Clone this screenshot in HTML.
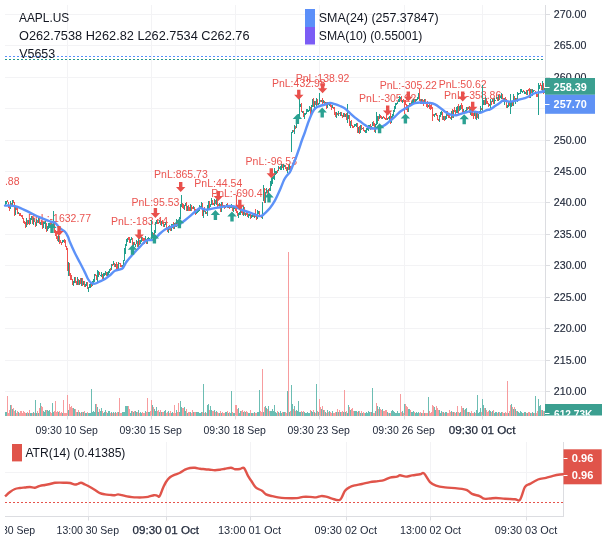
<!DOCTYPE html>
<html><head><meta charset="utf-8"><style>
html,body{margin:0;padding:0;background:#fff;width:608px;height:543px;overflow:hidden}
svg text{font-family:"Liberation Sans", sans-serif}
</style></head><body>
<svg width="608" height="543" viewBox="0 0 608 543" style="display:block;will-change:transform">
<g shape-rendering="crispEdges">
<line x1="5" y1="14.5" x2="545.5" y2="14.5" stroke="#f3f3f5"/>
<line x1="5" y1="45.5" x2="545.5" y2="45.5" stroke="#f3f3f5"/>
<line x1="5" y1="77.5" x2="545.5" y2="77.5" stroke="#f3f3f5"/>
<line x1="5" y1="108.5" x2="545.5" y2="108.5" stroke="#f3f3f5"/>
<line x1="5" y1="140.5" x2="545.5" y2="140.5" stroke="#f3f3f5"/>
<line x1="5" y1="171.5" x2="545.5" y2="171.5" stroke="#f3f3f5"/>
<line x1="5" y1="202.5" x2="545.5" y2="202.5" stroke="#f3f3f5"/>
<line x1="5" y1="234.5" x2="545.5" y2="234.5" stroke="#f3f3f5"/>
<line x1="5" y1="265.5" x2="545.5" y2="265.5" stroke="#f3f3f5"/>
<line x1="5" y1="297.5" x2="545.5" y2="297.5" stroke="#f3f3f5"/>
<line x1="5" y1="328.5" x2="545.5" y2="328.5" stroke="#f3f3f5"/>
<line x1="5" y1="360.5" x2="545.5" y2="360.5" stroke="#f3f3f5"/>
<line x1="5" y1="391.5" x2="545.5" y2="391.5" stroke="#f3f3f5"/>
<line x1="67.5" y1="5" x2="67.5" y2="415.5" stroke="#f3f3f5"/>
<line x1="151.5" y1="5" x2="151.5" y2="415.5" stroke="#f3f3f5"/>
<line x1="235.5" y1="5" x2="235.5" y2="415.5" stroke="#f3f3f5"/>
<line x1="319.5" y1="5" x2="319.5" y2="415.5" stroke="#f3f3f5"/>
<line x1="404.5" y1="5" x2="404.5" y2="415.5" stroke="#f3f3f5"/>
<line x1="482.5" y1="5" x2="482.5" y2="415.5" stroke="#f3f3f5"/>
</g>
<line x1="5" y1="56.5" x2="545.5" y2="56.5" stroke="#5b8ff9" stroke-width="1" stroke-dasharray="2,2"/>
<line x1="5" y1="59.5" x2="545.5" y2="59.5" stroke="#22968a" stroke-width="1" stroke-dasharray="2,2"/>
<text x="19" y="21.9" font-size="12" fill="#131722" text-anchor="start" font-weight="normal" textLength="50.2" lengthAdjust="spacingAndGlyphs">AAPL.US</text>
<text x="19" y="39.9" font-size="12" fill="#131722" text-anchor="start" font-weight="normal" textLength="230.5" lengthAdjust="spacingAndGlyphs">O262.7538 H262.82 L262.7534 C262.76</text>
<text x="19.2" y="57.8" font-size="12" fill="#131722" text-anchor="start" font-weight="normal" textLength="36" lengthAdjust="spacingAndGlyphs">V5653</text>
<rect x="305" y="9" width="10" height="18" fill="#5b8ff9"/>
<rect x="305" y="27" width="10" height="17.5" fill="#7b5cf5"/>
<text x="318.8" y="21.8" font-size="12" fill="#131722" text-anchor="start" font-weight="normal" textLength="119.80000000000001" lengthAdjust="spacingAndGlyphs">SMA(24) (257.37847)</text>
<text x="318.8" y="39.6" font-size="12" fill="#131722" text-anchor="start" font-weight="normal" textLength="103.59999999999997" lengthAdjust="spacingAndGlyphs">SMA(10) (0.55001)</text>
<svg x="5" y="5" width="540.5" height="410.5" overflow="hidden"><g transform="translate(-5,-5)">
<text x="59.5" y="221.6" font-size="11.2" fill="#ea5450" text-anchor="middle" font-weight="normal" textLength="63.05" lengthAdjust="spacingAndGlyphs">PnL:-1632.77</text>
<text x="139.6" y="225.3" font-size="11.2" fill="#ea5450" text-anchor="middle" font-weight="normal" textLength="57.21" lengthAdjust="spacingAndGlyphs">PnL:-183.44</text>
<text x="155.4" y="205.5" font-size="11.2" fill="#ea5450" text-anchor="middle" font-weight="normal" textLength="47.88" lengthAdjust="spacingAndGlyphs">PnL:95.53</text>
<text x="180.9" y="178.3" font-size="11.2" fill="#ea5450" text-anchor="middle" font-weight="normal" textLength="53.72" lengthAdjust="spacingAndGlyphs">PnL:865.73</text>
<text x="218.3" y="187.4" font-size="11.2" fill="#ea5450" text-anchor="middle" font-weight="normal" textLength="47.88" lengthAdjust="spacingAndGlyphs">PnL:44.54</text>
<text x="239.8" y="196.5" font-size="11.2" fill="#ea5450" text-anchor="middle" font-weight="normal" textLength="57.21" lengthAdjust="spacingAndGlyphs">PnL:-690.46</text>
<text x="271.3" y="165.20000000000002" font-size="11.2" fill="#ea5450" text-anchor="middle" font-weight="normal" textLength="51.37" lengthAdjust="spacingAndGlyphs">PnL:-96.53</text>
<text x="298.8" y="87.4" font-size="11.2" fill="#ea5450" text-anchor="middle" font-weight="normal" textLength="53.72" lengthAdjust="spacingAndGlyphs">PnL:432.98</text>
<text x="322.6" y="81.9" font-size="11.2" fill="#ea5450" text-anchor="middle" font-weight="normal" textLength="53.72" lengthAdjust="spacingAndGlyphs">PnL:138.92</text>
<text x="387.7" y="102.0" font-size="11.2" fill="#ea5450" text-anchor="middle" font-weight="normal" textLength="57.21" lengthAdjust="spacingAndGlyphs">PnL:-305.22</text>
<text x="408.3" y="88.7" font-size="11.2" fill="#ea5450" text-anchor="middle" font-weight="normal" textLength="57.21" lengthAdjust="spacingAndGlyphs">PnL:-305.22</text>
<text x="462.7" y="88.0" font-size="11.2" fill="#ea5450" text-anchor="middle" font-weight="normal" textLength="47.88" lengthAdjust="spacingAndGlyphs">PnL:50.62</text>
<text x="472.7" y="98.60000000000001" font-size="11.2" fill="#ea5450" text-anchor="middle" font-weight="normal" textLength="57.21" lengthAdjust="spacingAndGlyphs">PnL:-358.86</text>
<text x="19.5" y="184.6" font-size="11.2" fill="#ea5450" text-anchor="end" font-weight="normal" textLength="63.05" lengthAdjust="spacingAndGlyphs">PnL:-1201.88</text>
</g></svg>
<g shape-rendering="crispEdges">
<rect x="5" y="200.6" width="1" height="5.0" fill="#22a08e"/>
<rect x="6" y="200.9" width="1" height="2.6" fill="#22a08e"/>
<rect x="7" y="199.9" width="1" height="2.3" fill="#ef5350"/>
<rect x="8" y="201.9" width="1" height="5.6" fill="#ef5350"/>
<rect x="9" y="205.8" width="1" height="4.8" fill="#ef5350"/>
<rect x="10" y="201.0" width="1" height="8.2" fill="#22a08e"/>
<rect x="11" y="202.9" width="1" height="2.6" fill="#ef5350"/>
<rect x="12" y="199.5" width="1" height="6.2" fill="#22a08e"/>
<rect x="13" y="200.4" width="1" height="2.8" fill="#ef5350"/>
<rect x="14" y="201.7" width="1" height="13.8" fill="#ef5350"/>
<rect x="15" y="206.9" width="1" height="7.6" fill="#22a08e"/>
<rect x="16" y="205.7" width="1" height="4.5" fill="#ef5350"/>
<rect x="17" y="207.8" width="1" height="6.1" fill="#ef5350"/>
<rect x="18" y="211.8" width="1" height="2.0" fill="#22a08e"/>
<rect x="19" y="213.3" width="1" height="2.8" fill="#ef5350"/>
<rect x="20" y="213.0" width="1" height="3.1" fill="#ef5350"/>
<rect x="21" y="215.4" width="1" height="1.9" fill="#ef5350"/>
<rect x="22" y="215.3" width="1" height="3.4" fill="#ef5350"/>
<rect x="23" y="217.6" width="1" height="4.9" fill="#ef5350"/>
<rect x="24" y="221.1" width="1" height="3.3" fill="#ef5350"/>
<rect x="25" y="222.1" width="1" height="5.8" fill="#ef5350"/>
<rect x="26" y="218.4" width="1" height="8.8" fill="#22a08e"/>
<rect x="27" y="220.3" width="1" height="4.4" fill="#ef5350"/>
<rect x="28" y="219.6" width="1" height="4.1" fill="#22a08e"/>
<rect x="29" y="220.0" width="1" height="4.7" fill="#ef5350"/>
<rect x="30" y="217.6" width="1" height="6.0" fill="#22a08e"/>
<rect x="31" y="216.3" width="1" height="3.2" fill="#22a08e"/>
<rect x="32" y="216.1" width="1" height="8.0" fill="#ef5350"/>
<rect x="33" y="218.1" width="1" height="7.2" fill="#22a08e"/>
<rect x="34" y="218.2" width="1" height="3.4" fill="#ef5350"/>
<rect x="35" y="221.5" width="1" height="5.3" fill="#ef5350"/>
<rect x="36" y="218.9" width="1" height="7.2" fill="#22a08e"/>
<rect x="37" y="219.7" width="1" height="3.0" fill="#ef5350"/>
<rect x="38" y="216.8" width="1" height="5.9" fill="#22a08e"/>
<rect x="39" y="216.4" width="1" height="7.2" fill="#ef5350"/>
<rect x="40" y="221.6" width="1" height="3.1" fill="#22a08e"/>
<rect x="41" y="220.2" width="1" height="4.6" fill="#ef5350"/>
<rect x="42" y="221.9" width="1" height="7.2" fill="#ef5350"/>
<rect x="43" y="222.3" width="1" height="5.5" fill="#22a08e"/>
<rect x="44" y="222.1" width="1" height="2.3" fill="#22a08e"/>
<rect x="45" y="220.5" width="1" height="8.5" fill="#22a08e"/>
<rect x="46" y="222.8" width="1" height="9.0" fill="#ef5350"/>
<rect x="47" y="225.6" width="1" height="5.4" fill="#22a08e"/>
<rect x="48" y="222.8" width="1" height="5.9" fill="#22a08e"/>
<rect x="49" y="222.8" width="1" height="4.1" fill="#22a08e"/>
<rect x="50" y="222.0" width="1" height="4.5" fill="#ef5350"/>
<rect x="51" y="223.0" width="1" height="5.9" fill="#ef5350"/>
<rect x="52" y="224.9" width="1" height="5.2" fill="#22a08e"/>
<rect x="53" y="210.7" width="1" height="15.9" fill="#22a08e"/>
<rect x="54" y="222.2" width="1" height="11.2" fill="#ef5350"/>
<rect x="55" y="230.4" width="1" height="5.1" fill="#ef5350"/>
<rect x="56" y="232.8" width="1" height="6.2" fill="#ef5350"/>
<rect x="57" y="235.6" width="1" height="5.0" fill="#ef5350"/>
<rect x="58" y="235.1" width="1" height="6.5" fill="#22a08e"/>
<rect x="59" y="235.5" width="1" height="8.7" fill="#ef5350"/>
<rect x="60" y="239.9" width="1" height="3.2" fill="#ef5350"/>
<rect x="61" y="241.5" width="1" height="3.8" fill="#ef5350"/>
<rect x="62" y="240.3" width="1" height="2.3" fill="#22a08e"/>
<rect x="63" y="240.1" width="1" height="1.9" fill="#22a08e"/>
<rect x="64" y="238.9" width="1" height="4.1" fill="#ef5350"/>
<rect x="65" y="240.2" width="1" height="6.3" fill="#ef5350"/>
<rect x="66" y="245.8" width="1" height="3.7" fill="#ef5350"/>
<rect x="67" y="248.0" width="1" height="23.0" fill="#ef5350"/>
<rect x="68" y="262.0" width="1" height="14.0" fill="#22a08e"/>
<rect x="69" y="263.1" width="1" height="13.1" fill="#ef5350"/>
<rect x="70" y="273.3" width="1" height="6.4" fill="#ef5350"/>
<rect x="71" y="275.2" width="1" height="4.4" fill="#ef5350"/>
<rect x="72" y="279.3" width="1" height="5.5" fill="#ef5350"/>
<rect x="73" y="281.4" width="1" height="4.6" fill="#22a08e"/>
<rect x="74" y="277.3" width="1" height="5.7" fill="#22a08e"/>
<rect x="75" y="277.1" width="1" height="6.1" fill="#ef5350"/>
<rect x="76" y="280.5" width="1" height="4.4" fill="#ef5350"/>
<rect x="77" y="277.4" width="1" height="7.5" fill="#22a08e"/>
<rect x="78" y="278.5" width="1" height="6.0" fill="#ef5350"/>
<rect x="79" y="279.8" width="1" height="4.8" fill="#22a08e"/>
<rect x="80" y="278.4" width="1" height="5.5" fill="#ef5350"/>
<rect x="81" y="278.3" width="1" height="7.7" fill="#22a08e"/>
<rect x="82" y="277.9" width="1" height="8.0" fill="#ef5350"/>
<rect x="83" y="281.1" width="1" height="3.9" fill="#22a08e"/>
<rect x="84" y="281.0" width="1" height="5.7" fill="#ef5350"/>
<rect x="85" y="283.8" width="1" height="3.5" fill="#22a08e"/>
<rect x="86" y="282.0" width="1" height="4.0" fill="#22a08e"/>
<rect x="87" y="282.4" width="1" height="6.9" fill="#ef5350"/>
<rect x="88" y="286.6" width="1" height="5.3" fill="#22a08e"/>
<rect x="89" y="283.5" width="1" height="4.7" fill="#22a08e"/>
<rect x="90" y="283.2" width="1" height="4.3" fill="#22a08e"/>
<rect x="91" y="284.1" width="1" height="2.4" fill="#ef5350"/>
<rect x="92" y="280.6" width="1" height="5.7" fill="#22a08e"/>
<rect x="93" y="278.9" width="1" height="3.6" fill="#22a08e"/>
<rect x="94" y="273.7" width="1" height="7.9" fill="#22a08e"/>
<rect x="95" y="273.7" width="1" height="2.4" fill="#ef5350"/>
<rect x="96" y="275.2" width="1" height="4.9" fill="#ef5350"/>
<rect x="97" y="270.0" width="1" height="11.7" fill="#22a08e"/>
<rect x="98" y="271.0" width="1" height="5.6" fill="#22a08e"/>
<rect x="99" y="271.5" width="1" height="3.6" fill="#ef5350"/>
<rect x="100" y="274.5" width="1" height="1.8" fill="#22a08e"/>
<rect x="101" y="271.9" width="1" height="5.0" fill="#22a08e"/>
<rect x="102" y="274.1" width="1" height="5.1" fill="#ef5350"/>
<rect x="103" y="273.1" width="1" height="6.1" fill="#22a08e"/>
<rect x="104" y="273.2" width="1" height="2.7" fill="#22a08e"/>
<rect x="105" y="270.9" width="1" height="4.0" fill="#22a08e"/>
<rect x="106" y="271.6" width="1" height="4.4" fill="#ef5350"/>
<rect x="107" y="271.6" width="1" height="4.5" fill="#22a08e"/>
<rect x="108" y="271.1" width="1" height="3.9" fill="#22a08e"/>
<rect x="109" y="269.3" width="1" height="3.9" fill="#22a08e"/>
<rect x="110" y="267.9" width="1" height="2.9" fill="#ef5350"/>
<rect x="111" y="264.2" width="1" height="5.7" fill="#22a08e"/>
<rect x="112" y="263.5" width="1" height="2.0" fill="#ef5350"/>
<rect x="113" y="261.3" width="1" height="4.1" fill="#22a08e"/>
<rect x="114" y="263.3" width="1" height="4.1" fill="#ef5350"/>
<rect x="115" y="263.6" width="1" height="3.7" fill="#22a08e"/>
<rect x="116" y="262.3" width="1" height="8.4" fill="#ef5350"/>
<rect x="117" y="263.8" width="1" height="4.8" fill="#ef5350"/>
<rect x="118" y="262.3" width="1" height="6.6" fill="#22a08e"/>
<rect x="119" y="262.8" width="1" height="1.6" fill="#ef5350"/>
<rect x="120" y="262.7" width="1" height="4.0" fill="#ef5350"/>
<rect x="121" y="264.6" width="1" height="2.8" fill="#ef5350"/>
<rect x="122" y="264.6" width="1" height="3.6" fill="#22a08e"/>
<rect x="123" y="259.7" width="1" height="6.9" fill="#22a08e"/>
<rect x="124" y="248.2" width="1" height="12.4" fill="#22a08e"/>
<rect x="125" y="244.3" width="1" height="9.9" fill="#22a08e"/>
<rect x="126" y="238.7" width="1" height="7.0" fill="#22a08e"/>
<rect x="127" y="237.7" width="1" height="3.8" fill="#22a08e"/>
<rect x="128" y="236.8" width="1" height="3.1" fill="#ef5350"/>
<rect x="129" y="237.4" width="1" height="5.2" fill="#ef5350"/>
<rect x="130" y="239.4" width="1" height="4.0" fill="#22a08e"/>
<rect x="131" y="237.4" width="1" height="2.3" fill="#22a08e"/>
<rect x="132" y="238.1" width="1" height="8.7" fill="#ef5350"/>
<rect x="133" y="241.5" width="1" height="4.5" fill="#22a08e"/>
<rect x="134" y="242.1" width="1" height="2.9" fill="#ef5350"/>
<rect x="135" y="243.7" width="1" height="3.4" fill="#22a08e"/>
<rect x="136" y="239.8" width="1" height="4.2" fill="#22a08e"/>
<rect x="137" y="241.3" width="1" height="5.6" fill="#ef5350"/>
<rect x="138" y="236.9" width="1" height="9.9" fill="#22a08e"/>
<rect x="139" y="239.6" width="1" height="5.3" fill="#ef5350"/>
<rect x="140" y="239.5" width="1" height="4.3" fill="#22a08e"/>
<rect x="141" y="237.2" width="1" height="4.5" fill="#22a08e"/>
<rect x="142" y="236.9" width="1" height="3.7" fill="#ef5350"/>
<rect x="143" y="237.8" width="1" height="2.9" fill="#ef5350"/>
<rect x="144" y="237.9" width="1" height="5.6" fill="#ef5350"/>
<rect x="145" y="236.2" width="1" height="5.4" fill="#22a08e"/>
<rect x="146" y="238.6" width="1" height="5.7" fill="#ef5350"/>
<rect x="147" y="238.0" width="1" height="6.1" fill="#22a08e"/>
<rect x="148" y="237.0" width="1" height="4.0" fill="#22a08e"/>
<rect x="149" y="238.3" width="1" height="2.2" fill="#22a08e"/>
<rect x="150" y="238.8" width="1" height="2.0" fill="#ef5350"/>
<rect x="151" y="220.0" width="1" height="21.2" fill="#22a08e"/>
<rect x="152" y="232.3" width="1" height="4.8" fill="#22a08e"/>
<rect x="153" y="232.5" width="1" height="4.5" fill="#ef5350"/>
<rect x="154" y="230.4" width="1" height="8.2" fill="#22a08e"/>
<rect x="155" y="222.3" width="1" height="10.5" fill="#22a08e"/>
<rect x="156" y="219.8" width="1" height="3.8" fill="#22a08e"/>
<rect x="157" y="218.7" width="1" height="4.8" fill="#ef5350"/>
<rect x="158" y="221.9" width="1" height="2.0" fill="#ef5350"/>
<rect x="159" y="220.3" width="1" height="2.2" fill="#22a08e"/>
<rect x="160" y="219.3" width="1" height="5.9" fill="#ef5350"/>
<rect x="161" y="220.9" width="1" height="5.3" fill="#22a08e"/>
<rect x="162" y="219.6" width="1" height="4.4" fill="#ef5350"/>
<rect x="163" y="223.0" width="1" height="3.9" fill="#ef5350"/>
<rect x="164" y="223.9" width="1" height="3.5" fill="#22a08e"/>
<rect x="165" y="222.2" width="1" height="2.5" fill="#22a08e"/>
<rect x="166" y="220.6" width="1" height="7.2" fill="#ef5350"/>
<rect x="167" y="227.3" width="1" height="4.6" fill="#ef5350"/>
<rect x="168" y="225.6" width="1" height="6.9" fill="#22a08e"/>
<rect x="169" y="225.4" width="1" height="4.6" fill="#ef5350"/>
<rect x="170" y="227.9" width="1" height="2.9" fill="#ef5350"/>
<rect x="171" y="224.3" width="1" height="6.4" fill="#22a08e"/>
<rect x="172" y="223.6" width="1" height="4.0" fill="#22a08e"/>
<rect x="173" y="222.2" width="1" height="6.5" fill="#ef5350"/>
<rect x="174" y="222.5" width="1" height="6.4" fill="#22a08e"/>
<rect x="175" y="222.6" width="1" height="4.5" fill="#ef5350"/>
<rect x="176" y="218.9" width="1" height="8.1" fill="#22a08e"/>
<rect x="177" y="220.1" width="1" height="3.4" fill="#ef5350"/>
<rect x="178" y="220.3" width="1" height="3.8" fill="#ef5350"/>
<rect x="179" y="217.0" width="1" height="4.9" fill="#22a08e"/>
<rect x="180" y="204.0" width="1" height="15.0" fill="#22a08e"/>
<rect x="181" y="195.3" width="1" height="11.2" fill="#22a08e"/>
<rect x="182" y="203.2" width="1" height="4.4" fill="#ef5350"/>
<rect x="183" y="203.5" width="1" height="5.8" fill="#ef5350"/>
<rect x="184" y="204.9" width="1" height="4.6" fill="#22a08e"/>
<rect x="185" y="202.6" width="1" height="3.4" fill="#22a08e"/>
<rect x="186" y="201.7" width="1" height="8.9" fill="#ef5350"/>
<rect x="187" y="205.9" width="1" height="4.6" fill="#22a08e"/>
<rect x="188" y="205.0" width="1" height="6.4" fill="#ef5350"/>
<rect x="189" y="206.5" width="1" height="4.1" fill="#ef5350"/>
<rect x="190" y="204.2" width="1" height="7.2" fill="#22a08e"/>
<rect x="191" y="204.5" width="1" height="6.7" fill="#ef5350"/>
<rect x="192" y="206.8" width="1" height="2.0" fill="#ef5350"/>
<rect x="193" y="205.9" width="1" height="3.1" fill="#22a08e"/>
<rect x="194" y="207.4" width="1" height="5.1" fill="#ef5350"/>
<rect x="195" y="209.2" width="1" height="5.3" fill="#ef5350"/>
<rect x="196" y="211.5" width="1" height="2.4" fill="#22a08e"/>
<rect x="197" y="209.1" width="1" height="4.1" fill="#22a08e"/>
<rect x="198" y="207.9" width="1" height="4.5" fill="#22a08e"/>
<rect x="199" y="205.4" width="1" height="5.7" fill="#22a08e"/>
<rect x="200" y="205.6" width="1" height="2.1" fill="#22a08e"/>
<rect x="201" y="202.2" width="1" height="4.3" fill="#22a08e"/>
<rect x="202" y="203.1" width="1" height="12.5" fill="#ef5350"/>
<rect x="203" y="207.7" width="1" height="10.6" fill="#22a08e"/>
<rect x="204" y="206.5" width="1" height="5.4" fill="#ef5350"/>
<rect x="205" y="211.3" width="1" height="3.0" fill="#22a08e"/>
<rect x="206" y="211.5" width="1" height="2.2" fill="#ef5350"/>
<rect x="207" y="204.5" width="1" height="11.1" fill="#22a08e"/>
<rect x="208" y="200.8" width="1" height="9.1" fill="#22a08e"/>
<rect x="209" y="200.8" width="1" height="7.8" fill="#ef5350"/>
<rect x="210" y="203.8" width="1" height="3.4" fill="#22a08e"/>
<rect x="211" y="198.4" width="1" height="6.2" fill="#22a08e"/>
<rect x="212" y="199.5" width="1" height="5.7" fill="#ef5350"/>
<rect x="213" y="202.5" width="1" height="2.9" fill="#ef5350"/>
<rect x="214" y="199.4" width="1" height="6.4" fill="#22a08e"/>
<rect x="215" y="200.2" width="1" height="3.3" fill="#ef5350"/>
<rect x="216" y="199.2" width="1" height="5.5" fill="#22a08e"/>
<rect x="217" y="197.3" width="1" height="9.2" fill="#ef5350"/>
<rect x="218" y="203.7" width="1" height="2.1" fill="#ef5350"/>
<rect x="219" y="202.6" width="1" height="3.3" fill="#22a08e"/>
<rect x="220" y="203.8" width="1" height="8.2" fill="#ef5350"/>
<rect x="221" y="202.3" width="1" height="9.8" fill="#22a08e"/>
<rect x="222" y="202.3" width="1" height="3.4" fill="#ef5350"/>
<rect x="223" y="204.6" width="1" height="1.8" fill="#ef5350"/>
<rect x="224" y="204.7" width="1" height="4.5" fill="#ef5350"/>
<rect x="225" y="205.6" width="1" height="2.6" fill="#22a08e"/>
<rect x="226" y="203.7" width="1" height="2.9" fill="#22a08e"/>
<rect x="227" y="202.9" width="1" height="5.1" fill="#ef5350"/>
<rect x="228" y="206.3" width="1" height="1.6" fill="#22a08e"/>
<rect x="229" y="204.5" width="1" height="4.0" fill="#ef5350"/>
<rect x="230" y="205.9" width="1" height="2.4" fill="#22a08e"/>
<rect x="231" y="204.2" width="1" height="4.0" fill="#22a08e"/>
<rect x="232" y="204.8" width="1" height="6.6" fill="#ef5350"/>
<rect x="233" y="207.0" width="1" height="4.5" fill="#22a08e"/>
<rect x="234" y="205.9" width="1" height="2.7" fill="#22a08e"/>
<rect x="235" y="206.4" width="1" height="4.1" fill="#ef5350"/>
<rect x="236" y="195.0" width="1" height="18.1" fill="#ef5350"/>
<rect x="237" y="210.7" width="1" height="5.4" fill="#ef5350"/>
<rect x="238" y="213.3" width="1" height="4.9" fill="#22a08e"/>
<rect x="239" y="211.9" width="1" height="2.8" fill="#22a08e"/>
<rect x="240" y="207.8" width="1" height="7.4" fill="#22a08e"/>
<rect x="241" y="207.1" width="1" height="5.4" fill="#ef5350"/>
<rect x="242" y="209.0" width="1" height="5.7" fill="#ef5350"/>
<rect x="243" y="205.7" width="1" height="10.6" fill="#22a08e"/>
<rect x="244" y="206.9" width="1" height="8.3" fill="#ef5350"/>
<rect x="245" y="212.8" width="1" height="3.5" fill="#22a08e"/>
<rect x="246" y="212.1" width="1" height="3.3" fill="#ef5350"/>
<rect x="247" y="212.0" width="1" height="4.8" fill="#ef5350"/>
<rect x="248" y="213.8" width="1" height="4.4" fill="#22a08e"/>
<rect x="249" y="213.6" width="1" height="2.7" fill="#22a08e"/>
<rect x="250" y="214.1" width="1" height="4.5" fill="#ef5350"/>
<rect x="251" y="214.5" width="1" height="3.0" fill="#22a08e"/>
<rect x="252" y="214.1" width="1" height="2.4" fill="#22a08e"/>
<rect x="253" y="213.0" width="1" height="3.7" fill="#ef5350"/>
<rect x="254" y="213.2" width="1" height="4.7" fill="#22a08e"/>
<rect x="255" y="209.3" width="1" height="7.9" fill="#ef5350"/>
<rect x="256" y="214.8" width="1" height="4.7" fill="#ef5350"/>
<rect x="257" y="210.4" width="1" height="8.1" fill="#22a08e"/>
<rect x="258" y="211.0" width="1" height="2.7" fill="#22a08e"/>
<rect x="259" y="210.7" width="1" height="6.6" fill="#ef5350"/>
<rect x="260" y="214.5" width="1" height="2.0" fill="#ef5350"/>
<rect x="261" y="215.2" width="1" height="2.8" fill="#ef5350"/>
<rect x="262" y="202.3" width="1" height="16.2" fill="#22a08e"/>
<rect x="263" y="185.0" width="1" height="16.0" fill="#22a08e"/>
<rect x="264" y="187.9" width="1" height="15.1" fill="#ef5350"/>
<rect x="265" y="191.5" width="1" height="11.7" fill="#22a08e"/>
<rect x="266" y="187.6" width="1" height="5.4" fill="#22a08e"/>
<rect x="267" y="190.0" width="1" height="3.1" fill="#ef5350"/>
<rect x="268" y="188.8" width="1" height="5.1" fill="#22a08e"/>
<rect x="269" y="187.5" width="1" height="3.4" fill="#ef5350"/>
<rect x="270" y="181.2" width="1" height="9.3" fill="#22a08e"/>
<rect x="271" y="177.7" width="1" height="8.6" fill="#22a08e"/>
<rect x="272" y="176.7" width="1" height="7.6" fill="#22a08e"/>
<rect x="273" y="175.9" width="1" height="2.6" fill="#22a08e"/>
<rect x="274" y="168.3" width="1" height="11.5" fill="#22a08e"/>
<rect x="275" y="171.2" width="1" height="3.8" fill="#22a08e"/>
<rect x="276" y="170.5" width="1" height="3.0" fill="#22a08e"/>
<rect x="277" y="170.0" width="1" height="2.9" fill="#ef5350"/>
<rect x="278" y="165.8" width="1" height="5.4" fill="#22a08e"/>
<rect x="279" y="166.5" width="1" height="2.0" fill="#ef5350"/>
<rect x="280" y="166.4" width="1" height="3.7" fill="#22a08e"/>
<rect x="281" y="163.6" width="1" height="5.9" fill="#22a08e"/>
<rect x="282" y="163.6" width="1" height="4.8" fill="#ef5350"/>
<rect x="283" y="163.5" width="1" height="6.9" fill="#22a08e"/>
<rect x="284" y="164.7" width="1" height="2.5" fill="#22a08e"/>
<rect x="285" y="164.9" width="1" height="4.0" fill="#ef5350"/>
<rect x="286" y="166.5" width="1" height="4.0" fill="#ef5350"/>
<rect x="287" y="166.5" width="1" height="6.3" fill="#22a08e"/>
<rect x="288" y="165.4" width="1" height="4.1" fill="#ef5350"/>
<rect x="289" y="164.1" width="1" height="5.6" fill="#22a08e"/>
<rect x="290" y="166.0" width="1" height="4.0" fill="#ef5350"/>
<rect x="291" y="131.6" width="1" height="19.9" fill="#22a08e"/>
<rect x="292" y="130.0" width="1" height="2.7" fill="#22a08e"/>
<rect x="293" y="129.8" width="1" height="1.7" fill="#ef5350"/>
<rect x="294" y="124.9" width="1" height="8.6" fill="#22a08e"/>
<rect x="295" y="125.8" width="1" height="3.0" fill="#ef5350"/>
<rect x="296" y="121.9" width="1" height="6.4" fill="#22a08e"/>
<rect x="297" y="115.6" width="1" height="8.4" fill="#22a08e"/>
<rect x="298" y="114.3" width="1" height="2.3" fill="#22a08e"/>
<rect x="299" y="97.5" width="1" height="20.4" fill="#22a08e"/>
<rect x="300" y="103.6" width="1" height="3.8" fill="#22a08e"/>
<rect x="301" y="103.0" width="1" height="9.1" fill="#ef5350"/>
<rect x="302" y="110.8" width="1" height="2.5" fill="#22a08e"/>
<rect x="303" y="111.0" width="1" height="5.8" fill="#ef5350"/>
<rect x="304" y="112.7" width="1" height="5.9" fill="#22a08e"/>
<rect x="305" y="113.0" width="1" height="1.8" fill="#22a08e"/>
<rect x="306" y="109.1" width="1" height="4.6" fill="#22a08e"/>
<rect x="307" y="109.1" width="1" height="3.0" fill="#22a08e"/>
<rect x="308" y="110.3" width="1" height="1.6" fill="#22a08e"/>
<rect x="309" y="106.4" width="1" height="5.0" fill="#22a08e"/>
<rect x="310" y="107.0" width="1" height="8.8" fill="#ef5350"/>
<rect x="311" y="104.5" width="1" height="9.8" fill="#22a08e"/>
<rect x="312" y="98.6" width="1" height="8.1" fill="#22a08e"/>
<rect x="313" y="98.0" width="1" height="8.7" fill="#ef5350"/>
<rect x="314" y="101.2" width="1" height="6.8" fill="#22a08e"/>
<rect x="315" y="100.7" width="1" height="4.6" fill="#ef5350"/>
<rect x="316" y="97.5" width="1" height="9.1" fill="#22a08e"/>
<rect x="317" y="99.1" width="1" height="5.5" fill="#ef5350"/>
<rect x="318" y="102.5" width="1" height="2.2" fill="#22a08e"/>
<rect x="319" y="93.0" width="1" height="10.5" fill="#22a08e"/>
<rect x="320" y="99.9" width="1" height="2.4" fill="#ef5350"/>
<rect x="321" y="100.2" width="1" height="1.5" fill="#22a08e"/>
<rect x="322" y="98.2" width="1" height="5.5" fill="#ef5350"/>
<rect x="323" y="99.7" width="1" height="3.0" fill="#22a08e"/>
<rect x="324" y="100.5" width="1" height="5.5" fill="#ef5350"/>
<rect x="325" y="102.3" width="1" height="2.6" fill="#22a08e"/>
<rect x="326" y="102.3" width="1" height="6.8" fill="#ef5350"/>
<rect x="327" y="102.2" width="1" height="5.4" fill="#22a08e"/>
<rect x="328" y="102.7" width="1" height="2.6" fill="#ef5350"/>
<rect x="329" y="102.8" width="1" height="3.1" fill="#22a08e"/>
<rect x="330" y="102.8" width="1" height="4.0" fill="#ef5350"/>
<rect x="331" y="104.6" width="1" height="4.9" fill="#ef5350"/>
<rect x="332" y="105.4" width="1" height="2.9" fill="#22a08e"/>
<rect x="333" y="106.5" width="1" height="2.7" fill="#ef5350"/>
<rect x="334" y="106.5" width="1" height="8.2" fill="#ef5350"/>
<rect x="335" y="112.1" width="1" height="4.6" fill="#ef5350"/>
<rect x="336" y="112.2" width="1" height="5.6" fill="#22a08e"/>
<rect x="337" y="113.2" width="1" height="2.0" fill="#ef5350"/>
<rect x="338" y="111.1" width="1" height="4.4" fill="#22a08e"/>
<rect x="339" y="112.7" width="1" height="1.7" fill="#ef5350"/>
<rect x="340" y="111.9" width="1" height="3.8" fill="#22a08e"/>
<rect x="341" y="112.3" width="1" height="3.6" fill="#ef5350"/>
<rect x="342" y="114.7" width="1" height="3.0" fill="#ef5350"/>
<rect x="343" y="113.0" width="1" height="3.8" fill="#22a08e"/>
<rect x="344" y="112.6" width="1" height="4.6" fill="#ef5350"/>
<rect x="345" y="113.5" width="1" height="3.8" fill="#22a08e"/>
<rect x="346" y="112.6" width="1" height="7.8" fill="#ef5350"/>
<rect x="347" y="104.3" width="1" height="18.3" fill="#22a08e"/>
<rect x="348" y="115.1" width="1" height="3.9" fill="#22a08e"/>
<rect x="349" y="114.7" width="1" height="11.7" fill="#ef5350"/>
<rect x="350" y="120.5" width="1" height="7.4" fill="#22a08e"/>
<rect x="351" y="120.2" width="1" height="5.4" fill="#ef5350"/>
<rect x="352" y="125.4" width="1" height="2.4" fill="#ef5350"/>
<rect x="353" y="126.2" width="1" height="1.7" fill="#ef5350"/>
<rect x="354" y="124.2" width="1" height="2.4" fill="#22a08e"/>
<rect x="355" y="124.0" width="1" height="2.2" fill="#22a08e"/>
<rect x="356" y="122.5" width="1" height="4.3" fill="#22a08e"/>
<rect x="357" y="123.2" width="1" height="9.3" fill="#ef5350"/>
<rect x="358" y="126.6" width="1" height="6.3" fill="#22a08e"/>
<rect x="359" y="126.0" width="1" height="8.1" fill="#ef5350"/>
<rect x="360" y="125.3" width="1" height="8.1" fill="#22a08e"/>
<rect x="361" y="125.4" width="1" height="4.6" fill="#ef5350"/>
<rect x="362" y="127.7" width="1" height="1.6" fill="#22a08e"/>
<rect x="363" y="126.7" width="1" height="4.3" fill="#ef5350"/>
<rect x="364" y="129.9" width="1" height="2.5" fill="#ef5350"/>
<rect x="365" y="130.1" width="1" height="2.6" fill="#22a08e"/>
<rect x="366" y="128.3" width="1" height="4.8" fill="#22a08e"/>
<rect x="367" y="127.6" width="1" height="1.9" fill="#22a08e"/>
<rect x="368" y="124.5" width="1" height="6.3" fill="#22a08e"/>
<rect x="369" y="124.7" width="1" height="2.9" fill="#22a08e"/>
<rect x="370" y="123.5" width="1" height="6.2" fill="#ef5350"/>
<rect x="371" y="125.9" width="1" height="2.7" fill="#22a08e"/>
<rect x="372" y="121.6" width="1" height="4.0" fill="#22a08e"/>
<rect x="373" y="120.9" width="1" height="5.4" fill="#ef5350"/>
<rect x="374" y="122.5" width="1" height="9.1" fill="#ef5350"/>
<rect x="375" y="124.4" width="1" height="9.0" fill="#22a08e"/>
<rect x="376" y="112.2" width="1" height="12.9" fill="#22a08e"/>
<rect x="377" y="116.3" width="1" height="7.9" fill="#22a08e"/>
<rect x="378" y="116.0" width="1" height="4.6" fill="#ef5350"/>
<rect x="379" y="114.0" width="1" height="4.9" fill="#22a08e"/>
<rect x="380" y="114.5" width="1" height="3.3" fill="#ef5350"/>
<rect x="381" y="116.3" width="1" height="2.6" fill="#ef5350"/>
<rect x="382" y="116.8" width="1" height="1.9" fill="#22a08e"/>
<rect x="383" y="116.0" width="1" height="1.7" fill="#ef5350"/>
<rect x="384" y="116.8" width="1" height="2.4" fill="#ef5350"/>
<rect x="385" y="117.5" width="1" height="2.0" fill="#ef5350"/>
<rect x="386" y="114.1" width="1" height="5.6" fill="#ef5350"/>
<rect x="387" y="117.8" width="1" height="2.5" fill="#22a08e"/>
<rect x="388" y="117.1" width="1" height="2.3" fill="#ef5350"/>
<rect x="389" y="116.1" width="1" height="5.4" fill="#22a08e"/>
<rect x="390" y="112.9" width="1" height="10.9" fill="#ef5350"/>
<rect x="391" y="116.3" width="1" height="6.4" fill="#22a08e"/>
<rect x="392" y="114.3" width="1" height="4.9" fill="#22a08e"/>
<rect x="393" y="110.1" width="1" height="6.2" fill="#22a08e"/>
<rect x="394" y="105.8" width="1" height="5.7" fill="#22a08e"/>
<rect x="395" y="103.4" width="1" height="5.6" fill="#22a08e"/>
<rect x="396" y="102.5" width="1" height="2.2" fill="#22a08e"/>
<rect x="397" y="101.6" width="1" height="2.5" fill="#22a08e"/>
<rect x="398" y="99.0" width="1" height="3.3" fill="#22a08e"/>
<rect x="399" y="96.2" width="1" height="6.1" fill="#22a08e"/>
<rect x="400" y="96.5" width="1" height="2.6" fill="#22a08e"/>
<rect x="401" y="95.9" width="1" height="5.8" fill="#ef5350"/>
<rect x="402" y="99.7" width="1" height="2.8" fill="#22a08e"/>
<rect x="403" y="98.9" width="1" height="3.1" fill="#ef5350"/>
<rect x="404" y="99.7" width="1" height="13.9" fill="#ef5350"/>
<rect x="405" y="100.2" width="1" height="5.0" fill="#ef5350"/>
<rect x="406" y="104.3" width="1" height="5.2" fill="#ef5350"/>
<rect x="407" y="105.1" width="1" height="6.8" fill="#ef5350"/>
<rect x="408" y="105.1" width="1" height="6.6" fill="#22a08e"/>
<rect x="409" y="102.7" width="1" height="3.8" fill="#22a08e"/>
<rect x="410" y="102.7" width="1" height="2.9" fill="#ef5350"/>
<rect x="411" y="102.0" width="1" height="3.2" fill="#22a08e"/>
<rect x="412" y="99.5" width="1" height="4.0" fill="#22a08e"/>
<rect x="413" y="98.7" width="1" height="3.8" fill="#22a08e"/>
<rect x="414" y="99.4" width="1" height="3.2" fill="#ef5350"/>
<rect x="415" y="98.5" width="1" height="4.2" fill="#22a08e"/>
<rect x="416" y="98.7" width="1" height="2.3" fill="#22a08e"/>
<rect x="417" y="96.9" width="1" height="2.8" fill="#22a08e"/>
<rect x="418" y="93.1" width="1" height="6.1" fill="#22a08e"/>
<rect x="419" y="89.4" width="1" height="11.2" fill="#ef5350"/>
<rect x="420" y="99.0" width="1" height="5.0" fill="#ef5350"/>
<rect x="421" y="98.7" width="1" height="5.7" fill="#22a08e"/>
<rect x="422" y="99.3" width="1" height="2.3" fill="#ef5350"/>
<rect x="423" y="100.2" width="1" height="5.8" fill="#ef5350"/>
<rect x="424" y="99.2" width="1" height="5.1" fill="#22a08e"/>
<rect x="425" y="98.9" width="1" height="4.7" fill="#ef5350"/>
<rect x="426" y="102.2" width="1" height="5.0" fill="#ef5350"/>
<rect x="427" y="101.1" width="1" height="6.4" fill="#ef5350"/>
<rect x="428" y="104.5" width="1" height="2.2" fill="#22a08e"/>
<rect x="429" y="103.3" width="1" height="5.4" fill="#ef5350"/>
<rect x="430" y="104.9" width="1" height="4.9" fill="#ef5350"/>
<rect x="431" y="103.5" width="1" height="5.9" fill="#ef5350"/>
<rect x="432" y="106.7" width="1" height="14.6" fill="#ef5350"/>
<rect x="433" y="114.0" width="1" height="2.3" fill="#ef5350"/>
<rect x="434" y="113.7" width="1" height="3.0" fill="#22a08e"/>
<rect x="435" y="113.2" width="1" height="1.5" fill="#22a08e"/>
<rect x="436" y="112.5" width="1" height="3.5" fill="#ef5350"/>
<rect x="437" y="114.7" width="1" height="5.3" fill="#ef5350"/>
<rect x="438" y="119.0" width="1" height="2.2" fill="#ef5350"/>
<rect x="439" y="114.9" width="1" height="7.1" fill="#22a08e"/>
<rect x="440" y="112.3" width="1" height="5.1" fill="#22a08e"/>
<rect x="441" y="110.9" width="1" height="4.4" fill="#22a08e"/>
<rect x="442" y="112.2" width="1" height="8.1" fill="#ef5350"/>
<rect x="443" y="115.7" width="1" height="4.1" fill="#22a08e"/>
<rect x="444" y="116.1" width="1" height="5.1" fill="#ef5350"/>
<rect x="445" y="115.5" width="1" height="4.4" fill="#22a08e"/>
<rect x="446" y="111.3" width="1" height="7.7" fill="#22a08e"/>
<rect x="447" y="110.9" width="1" height="5.0" fill="#ef5350"/>
<rect x="448" y="114.2" width="1" height="3.5" fill="#ef5350"/>
<rect x="449" y="114.7" width="1" height="3.3" fill="#ef5350"/>
<rect x="450" y="116.5" width="1" height="2.6" fill="#ef5350"/>
<rect x="451" y="111.3" width="1" height="8.8" fill="#22a08e"/>
<rect x="452" y="109.2" width="1" height="9.0" fill="#ef5350"/>
<rect x="453" y="110.1" width="1" height="8.1" fill="#22a08e"/>
<rect x="454" y="106.9" width="1" height="5.2" fill="#ef5350"/>
<rect x="455" y="110.4" width="1" height="5.4" fill="#ef5350"/>
<rect x="456" y="107.1" width="1" height="5.9" fill="#22a08e"/>
<rect x="457" y="106.2" width="1" height="6.9" fill="#22a08e"/>
<rect x="458" y="104.2" width="1" height="9.8" fill="#ef5350"/>
<rect x="459" y="106.4" width="1" height="4.1" fill="#22a08e"/>
<rect x="460" y="105.0" width="1" height="4.5" fill="#22a08e"/>
<rect x="461" y="103.0" width="1" height="6.1" fill="#ef5350"/>
<rect x="462" y="105.4" width="1" height="8.7" fill="#ef5350"/>
<rect x="463" y="109.0" width="1" height="4.5" fill="#22a08e"/>
<rect x="464" y="110.7" width="1" height="2.3" fill="#ef5350"/>
<rect x="465" y="110.1" width="1" height="2.2" fill="#22a08e"/>
<rect x="466" y="106.8" width="1" height="4.7" fill="#22a08e"/>
<rect x="467" y="106.8" width="1" height="3.0" fill="#ef5350"/>
<rect x="468" y="106.5" width="1" height="2.9" fill="#22a08e"/>
<rect x="469" y="105.7" width="1" height="6.8" fill="#ef5350"/>
<rect x="470" y="108.4" width="1" height="6.9" fill="#22a08e"/>
<rect x="471" y="109.3" width="1" height="6.7" fill="#ef5350"/>
<rect x="472" y="112.2" width="1" height="3.5" fill="#ef5350"/>
<rect x="473" y="113.1" width="1" height="6.3" fill="#ef5350"/>
<rect x="474" y="111.4" width="1" height="4.2" fill="#22a08e"/>
<rect x="475" y="110.6" width="1" height="8.3" fill="#ef5350"/>
<rect x="476" y="112.5" width="1" height="7.3" fill="#22a08e"/>
<rect x="477" y="110.9" width="1" height="6.9" fill="#ef5350"/>
<rect x="478" y="113.6" width="1" height="5.5" fill="#22a08e"/>
<rect x="479" y="110.8" width="1" height="3.4" fill="#22a08e"/>
<rect x="480" y="106.3" width="1" height="6.9" fill="#22a08e"/>
<rect x="481" y="107.7" width="1" height="2.5" fill="#ef5350"/>
<rect x="482" y="85.0" width="1" height="25.9" fill="#22a08e"/>
<rect x="483" y="99.9" width="1" height="5.0" fill="#22a08e"/>
<rect x="484" y="99.8" width="1" height="4.7" fill="#ef5350"/>
<rect x="485" y="97.4" width="1" height="7.7" fill="#22a08e"/>
<rect x="486" y="97.5" width="1" height="6.2" fill="#ef5350"/>
<rect x="487" y="100.7" width="1" height="2.8" fill="#ef5350"/>
<rect x="488" y="103.3" width="1" height="3.4" fill="#ef5350"/>
<rect x="489" y="104.0" width="1" height="2.2" fill="#22a08e"/>
<rect x="490" y="98.6" width="1" height="9.1" fill="#22a08e"/>
<rect x="491" y="100.6" width="1" height="3.9" fill="#ef5350"/>
<rect x="492" y="98.9" width="1" height="3.4" fill="#22a08e"/>
<rect x="493" y="98.3" width="1" height="5.8" fill="#ef5350"/>
<rect x="494" y="97.8" width="1" height="6.2" fill="#22a08e"/>
<rect x="495" y="99.7" width="1" height="1.6" fill="#22a08e"/>
<rect x="496" y="96.6" width="1" height="2.2" fill="#22a08e"/>
<rect x="497" y="96.6" width="1" height="4.3" fill="#ef5350"/>
<rect x="498" y="95.4" width="1" height="5.1" fill="#22a08e"/>
<rect x="499" y="94.1" width="1" height="5.4" fill="#ef5350"/>
<rect x="500" y="95.6" width="1" height="2.0" fill="#22a08e"/>
<rect x="501" y="92.6" width="1" height="5.9" fill="#22a08e"/>
<rect x="502" y="93.5" width="1" height="5.2" fill="#ef5350"/>
<rect x="503" y="98.4" width="1" height="3.3" fill="#ef5350"/>
<rect x="504" y="97.5" width="1" height="7.2" fill="#22a08e"/>
<rect x="505" y="97.2" width="1" height="3.8" fill="#ef5350"/>
<rect x="506" y="99.0" width="1" height="9.3" fill="#ef5350"/>
<rect x="507" y="105.2" width="1" height="3.0" fill="#22a08e"/>
<rect x="508" y="102.0" width="1" height="4.8" fill="#22a08e"/>
<rect x="509" y="101.6" width="1" height="4.8" fill="#ef5350"/>
<rect x="510" y="94.2" width="1" height="19.3" fill="#22a08e"/>
<rect x="511" y="100.8" width="1" height="5.7" fill="#22a08e"/>
<rect x="512" y="100.5" width="1" height="5.3" fill="#ef5350"/>
<rect x="513" y="93.6" width="1" height="12.3" fill="#22a08e"/>
<rect x="514" y="95.9" width="1" height="5.7" fill="#ef5350"/>
<rect x="515" y="98.2" width="1" height="5.5" fill="#22a08e"/>
<rect x="516" y="97.7" width="1" height="3.7" fill="#ef5350"/>
<rect x="517" y="91.6" width="1" height="10.0" fill="#22a08e"/>
<rect x="518" y="92.9" width="1" height="1.8" fill="#22a08e"/>
<rect x="519" y="92.5" width="1" height="1.6" fill="#22a08e"/>
<rect x="520" y="89.4" width="1" height="4.8" fill="#22a08e"/>
<rect x="521" y="88.8" width="1" height="3.5" fill="#22a08e"/>
<rect x="522" y="90.7" width="1" height="2.3" fill="#22a08e"/>
<rect x="523" y="89.9" width="1" height="2.5" fill="#ef5350"/>
<rect x="524" y="90.9" width="1" height="2.8" fill="#22a08e"/>
<rect x="525" y="91.9" width="1" height="2.1" fill="#22a08e"/>
<rect x="526" y="90.2" width="1" height="5.1" fill="#ef5350"/>
<rect x="527" y="90.0" width="1" height="4.5" fill="#22a08e"/>
<rect x="528" y="89.0" width="1" height="1.6" fill="#ef5350"/>
<rect x="529" y="88.3" width="1" height="9.7" fill="#ef5350"/>
<rect x="530" y="89.2" width="1" height="9.2" fill="#22a08e"/>
<rect x="531" y="89.3" width="1" height="3.8" fill="#ef5350"/>
<rect x="532" y="88.8" width="1" height="7.2" fill="#22a08e"/>
<rect x="533" y="89.7" width="1" height="2.6" fill="#22a08e"/>
<rect x="534" y="89.7" width="1" height="1.7" fill="#ef5350"/>
<rect x="535" y="90.9" width="1" height="3.2" fill="#ef5350"/>
<rect x="536" y="91.6" width="1" height="5.0" fill="#ef5350"/>
<rect x="537" y="94.4" width="1" height="2.7" fill="#ef5350"/>
<rect x="538" y="83.0" width="1" height="31.7" fill="#22a08e"/>
<rect x="539" y="84.7" width="1" height="4.4" fill="#22a08e"/>
<rect x="540" y="83.3" width="1" height="2.5" fill="#ef5350"/>
<rect x="541" y="84.8" width="1" height="5.3" fill="#ef5350"/>
<rect x="542" y="81.4" width="1" height="9.9" fill="#22a08e"/>
<rect x="543" y="82.5" width="1" height="11.4" fill="#ef5350"/>
<rect x="544" y="87.6" width="1" height="5.0" fill="#22a08e"/>
</g>
<path d="M5.00,205.60 C5.83,205.60 8.33,205.50 10.00,205.60 C11.67,205.70 13.33,205.83 15.00,206.20 C16.67,206.57 17.50,206.73 20.00,207.80 C22.50,208.87 26.67,211.00 30.00,212.60 C33.33,214.20 36.67,215.93 40.00,217.40 C43.33,218.87 47.50,220.50 50.00,221.40 C52.50,222.30 53.33,221.67 55.00,222.80 C56.67,223.93 58.33,226.70 60.00,228.20 C61.67,229.70 63.67,230.37 65.00,231.80 C66.33,233.23 67.17,235.05 68.00,236.80 C68.83,238.55 68.83,239.57 70.00,242.30 C71.17,245.03 73.33,249.78 75.00,253.20 C76.67,256.62 78.33,259.57 80.00,262.80 C81.67,266.03 83.67,269.90 85.00,272.60 C86.33,275.30 87.00,277.30 88.00,279.00 C89.00,280.70 89.83,282.03 91.00,282.80 C92.17,283.57 93.50,283.85 95.00,283.60 C96.50,283.35 98.33,282.07 100.00,281.30 C101.67,280.53 103.33,280.02 105.00,279.00 C106.67,277.98 108.33,276.57 110.00,275.20 C111.67,273.83 113.33,271.78 115.00,270.80 C116.67,269.82 118.67,269.78 120.00,269.30 C121.33,268.82 122.00,269.03 123.00,267.90 C124.00,266.77 124.83,264.23 126.00,262.50 C127.17,260.77 128.50,259.27 130.00,257.50 C131.50,255.73 133.33,253.70 135.00,251.90 C136.67,250.10 138.33,248.43 140.00,246.70 C141.67,244.97 143.67,242.60 145.00,241.50 C146.33,240.40 146.83,240.33 148.00,240.10 C149.17,239.87 150.83,240.35 152.00,240.10 C153.17,239.85 153.67,239.70 155.00,238.60 C156.33,237.50 158.33,235.02 160.00,233.50 C161.67,231.98 163.33,230.53 165.00,229.50 C166.67,228.47 168.33,227.98 170.00,227.30 C171.67,226.62 173.67,225.78 175.00,225.40 C176.33,225.02 177.17,225.23 178.00,225.00 C178.83,224.77 178.83,224.78 180.00,224.00 C181.17,223.22 183.33,221.60 185.00,220.30 C186.67,219.00 188.33,217.62 190.00,216.20 C191.67,214.78 193.33,213.17 195.00,211.80 C196.67,210.43 198.67,208.48 200.00,208.00 C201.33,207.52 201.83,208.62 203.00,208.90 C204.17,209.18 205.83,209.67 207.00,209.70 C208.17,209.73 208.67,209.37 210.00,209.10 C211.33,208.83 213.33,208.40 215.00,208.10 C216.67,207.80 218.33,207.58 220.00,207.30 C221.67,207.02 223.33,206.62 225.00,206.40 C226.67,206.18 228.33,205.97 230.00,206.00 C231.67,206.03 233.33,206.08 235.00,206.60 C236.67,207.12 238.33,208.37 240.00,209.10 C241.67,209.83 243.33,210.42 245.00,211.00 C246.67,211.58 248.33,212.00 250.00,212.60 C251.67,213.20 253.50,214.02 255.00,214.60 C256.50,215.18 257.83,215.93 259.00,216.10 C260.17,216.27 261.00,216.10 262.00,215.60 C263.00,215.10 263.67,214.37 265.00,213.10 C266.33,211.83 268.33,210.12 270.00,208.00 C271.67,205.88 273.33,203.43 275.00,200.40 C276.67,197.37 278.50,193.20 280.00,189.80 C281.50,186.40 282.83,182.38 284.00,180.00 C285.17,177.62 286.00,176.83 287.00,175.50 C288.00,174.17 289.00,173.75 290.00,172.00 C291.00,170.25 292.00,167.42 293.00,165.00 C294.00,162.58 295.00,160.17 296.00,157.50 C297.00,154.83 298.00,151.92 299.00,149.00 C300.00,146.08 301.00,142.83 302.00,140.00 C303.00,137.17 304.00,134.83 305.00,132.00 C306.00,129.17 307.00,125.77 308.00,123.00 C309.00,120.23 310.00,117.60 311.00,115.40 C312.00,113.20 313.00,111.20 314.00,109.80 C315.00,108.40 316.00,107.63 317.00,107.00 C318.00,106.37 318.67,106.42 320.00,106.00 C321.33,105.58 323.33,105.00 325.00,104.50 C326.67,104.00 328.33,103.07 330.00,103.00 C331.67,102.93 333.33,103.60 335.00,104.10 C336.67,104.60 338.33,105.27 340.00,106.00 C341.67,106.73 343.33,107.30 345.00,108.50 C346.67,109.70 348.33,111.68 350.00,113.20 C351.67,114.72 353.33,116.25 355.00,117.60 C356.67,118.95 358.33,120.07 360.00,121.30 C361.67,122.53 363.33,123.88 365.00,125.00 C366.67,126.12 368.33,127.42 370.00,128.00 C371.67,128.58 373.33,128.58 375.00,128.50 C376.67,128.42 378.33,128.08 380.00,127.50 C381.67,126.92 383.33,126.12 385.00,125.00 C386.67,123.88 388.33,122.20 390.00,120.80 C391.67,119.40 393.33,118.12 395.00,116.60 C396.67,115.08 398.33,113.03 400.00,111.70 C401.67,110.37 403.33,109.60 405.00,108.60 C406.67,107.60 408.33,106.60 410.00,105.70 C411.67,104.80 413.33,103.73 415.00,103.20 C416.67,102.67 418.33,102.55 420.00,102.50 C421.67,102.45 423.33,102.82 425.00,102.90 C426.67,102.98 428.33,102.75 430.00,103.00 C431.67,103.25 433.33,103.62 435.00,104.40 C436.67,105.18 438.33,106.48 440.00,107.70 C441.67,108.92 443.33,110.58 445.00,111.70 C446.67,112.82 448.33,113.78 450.00,114.40 C451.67,115.02 453.33,115.45 455.00,115.40 C456.67,115.35 458.33,114.57 460.00,114.10 C461.67,113.63 463.33,113.05 465.00,112.60 C466.67,112.15 468.33,111.55 470.00,111.40 C471.67,111.25 473.33,111.48 475.00,111.70 C476.67,111.92 478.67,112.70 480.00,112.70 C481.33,112.70 481.83,112.15 483.00,111.70 C484.17,111.25 485.83,110.38 487.00,110.00 C488.17,109.62 488.67,110.05 490.00,109.40 C491.33,108.75 493.33,107.22 495.00,106.10 C496.67,104.98 498.67,103.63 500.00,102.70 C501.33,101.77 501.83,100.75 503.00,100.50 C504.17,100.25 505.83,101.00 507.00,101.20 C508.17,101.40 508.67,101.75 510.00,101.70 C511.33,101.65 513.33,101.30 515.00,100.90 C516.67,100.50 518.33,99.75 520.00,99.30 C521.67,98.85 523.33,98.78 525.00,98.20 C526.67,97.62 528.67,96.53 530.00,95.80 C531.33,95.07 531.83,94.33 533.00,93.80 C534.17,93.27 535.83,92.87 537.00,92.60 C538.17,92.33 538.67,92.47 540.00,92.20 C541.33,91.93 544.17,91.20 545.00,91.00" fill="none" stroke="#5d92f8" stroke-width="2.4" stroke-linejoin="round" stroke-linecap="round"/>
<path d="M57.3,226 h3.4 v5 h3 l-4.7,5 l-4.7,-5 h3 z" fill="#e9504c"/>
<path d="M137.5,229.5 h3.4 v5 h3 l-4.7,5 l-4.7,-5 h3 z" fill="#e9504c"/>
<path d="M153.70000000000002,208 h3.4 v5 h3 l-4.7,5 l-4.7,-5 h3 z" fill="#e9504c"/>
<path d="M179.0,182 h3.4 v5 h3 l-4.7,5 l-4.7,-5 h3 z" fill="#e9504c"/>
<path d="M216.60000000000002,191 h3.4 v5 h3 l-4.7,5 l-4.7,-5 h3 z" fill="#e9504c"/>
<path d="M238.10000000000002,199.8 h3.4 v5 h3 l-4.7,5 l-4.7,-5 h3 z" fill="#e9504c"/>
<path d="M269.6,168.2 h3.4 v5 h3 l-4.7,5 l-4.7,-5 h3 z" fill="#e9504c"/>
<path d="M297.1,89.8 h3.4 v5 h3 l-4.7,5 l-4.7,-5 h3 z" fill="#e9504c"/>
<path d="M320.90000000000003,83.2 h3.4 v5 h3 l-4.7,5 l-4.7,-5 h3 z" fill="#e9504c"/>
<path d="M386.0,105.5 h3.4 v5 h3 l-4.7,5 l-4.7,-5 h3 z" fill="#e9504c"/>
<path d="M406.6,91.5 h3.4 v5 h3 l-4.7,5 l-4.7,-5 h3 z" fill="#e9504c"/>
<path d="M461.0,91.5 h3.4 v5 h3 l-4.7,5 l-4.7,-5 h3 z" fill="#e9504c"/>
<path d="M471.0,101.8 h3.4 v5 h3 l-4.7,5 l-4.7,-5 h3 z" fill="#e9504c"/>
<path d="M50.3,233 h3.4 v-5 h3 l-4.7,-5 l-4.7,5 h3 z" fill="#2ba192"/>
<path d="M130.8,254.7 h3.4 v-5 h3 l-4.7,-5 l-4.7,5 h3 z" fill="#2ba192"/>
<path d="M152.70000000000002,243.5 h3.4 v-5 h3 l-4.7,-5 l-4.7,5 h3 z" fill="#2ba192"/>
<path d="M177.70000000000002,228.2 h3.4 v-5 h3 l-4.7,-5 l-4.7,5 h3 z" fill="#2ba192"/>
<path d="M213.70000000000002,220 h3.4 v-5 h3 l-4.7,-5 l-4.7,5 h3 z" fill="#2ba192"/>
<path d="M230.3,221.5 h3.4 v-5 h3 l-4.7,-5 l-4.7,5 h3 z" fill="#2ba192"/>
<path d="M267.3,202.5 h3.4 v-5 h3 l-4.7,-5 l-4.7,5 h3 z" fill="#2ba192"/>
<path d="M295.7,124 h3.4 v-5 h3 l-4.7,-5 l-4.7,5 h3 z" fill="#2ba192"/>
<path d="M320.5,117.4 h3.4 v-5 h3 l-4.7,-5 l-4.7,5 h3 z" fill="#2ba192"/>
<path d="M377.90000000000003,133.2 h3.4 v-5 h3 l-4.7,-5 l-4.7,5 h3 z" fill="#2ba192"/>
<path d="M403.7,123.6 h3.4 v-5 h3 l-4.7,-5 l-4.7,5 h3 z" fill="#2ba192"/>
<path d="M462.5,124.3 h3.4 v-5 h3 l-4.7,-5 l-4.7,5 h3 z" fill="#2ba192"/>
<g shape-rendering="crispEdges">
<rect x="5" y="411.7" width="1" height="3.8" fill="#6cbdb3"/>
<rect x="6" y="411.9" width="1" height="3.6" fill="#6cbdb3"/>
<rect x="7" y="395.7" width="1" height="19.8" fill="#f79c9e"/>
<rect x="8" y="413.0" width="1" height="2.5" fill="#f79c9e"/>
<rect x="9" y="409.7" width="1" height="5.8" fill="#f79c9e"/>
<rect x="10" y="405.0" width="1" height="10.5" fill="#6cbdb3"/>
<rect x="11" y="405.1" width="1" height="10.4" fill="#f79c9e"/>
<rect x="12" y="409.3" width="1" height="6.2" fill="#6cbdb3"/>
<rect x="13" y="408.2" width="1" height="7.3" fill="#f79c9e"/>
<rect x="14" y="411.1" width="1" height="4.4" fill="#f79c9e"/>
<rect x="15" y="410.3" width="1" height="5.2" fill="#6cbdb3"/>
<rect x="16" y="413.1" width="1" height="2.4" fill="#f79c9e"/>
<rect x="17" y="411.3" width="1" height="4.2" fill="#f79c9e"/>
<rect x="18" y="412.2" width="1" height="3.3" fill="#6cbdb3"/>
<rect x="19" y="412.5" width="1" height="3.0" fill="#f79c9e"/>
<rect x="20" y="411.1" width="1" height="4.4" fill="#f79c9e"/>
<rect x="21" y="410.8" width="1" height="4.7" fill="#f79c9e"/>
<rect x="22" y="413.1" width="1" height="2.4" fill="#f79c9e"/>
<rect x="23" y="411.3" width="1" height="4.2" fill="#f79c9e"/>
<rect x="24" y="412.0" width="1" height="3.5" fill="#f79c9e"/>
<rect x="25" y="413.0" width="1" height="2.5" fill="#f79c9e"/>
<rect x="26" y="412.5" width="1" height="3.0" fill="#6cbdb3"/>
<rect x="27" y="411.8" width="1" height="3.7" fill="#f79c9e"/>
<rect x="28" y="412.9" width="1" height="2.6" fill="#6cbdb3"/>
<rect x="29" y="410.3" width="1" height="5.2" fill="#f79c9e"/>
<rect x="30" y="412.8" width="1" height="2.7" fill="#6cbdb3"/>
<rect x="31" y="412.5" width="1" height="3.0" fill="#6cbdb3"/>
<rect x="32" y="413.2" width="1" height="2.3" fill="#f79c9e"/>
<rect x="33" y="411.6" width="1" height="3.9" fill="#6cbdb3"/>
<rect x="34" y="412.9" width="1" height="2.6" fill="#f79c9e"/>
<rect x="35" y="400.0" width="1" height="15.5" fill="#6cbdb3"/>
<rect x="36" y="413.0" width="1" height="2.5" fill="#6cbdb3"/>
<rect x="37" y="411.2" width="1" height="4.3" fill="#f79c9e"/>
<rect x="38" y="413.1" width="1" height="2.4" fill="#6cbdb3"/>
<rect x="39" y="408.0" width="1" height="7.5" fill="#f79c9e"/>
<rect x="40" y="402.6" width="1" height="12.9" fill="#6cbdb3"/>
<rect x="41" y="406.1" width="1" height="9.4" fill="#f79c9e"/>
<rect x="42" y="407.2" width="1" height="8.3" fill="#f79c9e"/>
<rect x="43" y="411.2" width="1" height="4.3" fill="#6cbdb3"/>
<rect x="44" y="411.7" width="1" height="3.8" fill="#6cbdb3"/>
<rect x="45" y="409.7" width="1" height="5.8" fill="#6cbdb3"/>
<rect x="46" y="410.4" width="1" height="5.1" fill="#f79c9e"/>
<rect x="47" y="409.6" width="1" height="5.9" fill="#6cbdb3"/>
<rect x="48" y="411.1" width="1" height="4.4" fill="#6cbdb3"/>
<rect x="49" y="409.6" width="1" height="5.9" fill="#6cbdb3"/>
<rect x="50" y="411.9" width="1" height="3.6" fill="#f79c9e"/>
<rect x="51" y="412.6" width="1" height="2.9" fill="#f79c9e"/>
<rect x="52" y="403.0" width="1" height="12.5" fill="#6cbdb3"/>
<rect x="53" y="411.9" width="1" height="3.6" fill="#6cbdb3"/>
<rect x="54" y="411.1" width="1" height="4.4" fill="#f79c9e"/>
<rect x="55" y="401.0" width="1" height="14.5" fill="#f79c9e"/>
<rect x="56" y="412.4" width="1" height="3.1" fill="#f79c9e"/>
<rect x="57" y="411.3" width="1" height="4.2" fill="#f79c9e"/>
<rect x="58" y="411.9" width="1" height="3.6" fill="#6cbdb3"/>
<rect x="59" y="410.6" width="1" height="4.9" fill="#f79c9e"/>
<rect x="60" y="412.8" width="1" height="2.7" fill="#f79c9e"/>
<rect x="61" y="411.6" width="1" height="3.9" fill="#f79c9e"/>
<rect x="62" y="413.1" width="1" height="2.4" fill="#6cbdb3"/>
<rect x="63" y="400.0" width="1" height="15.5" fill="#f79c9e"/>
<rect x="64" y="412.8" width="1" height="2.7" fill="#f79c9e"/>
<rect x="65" y="412.5" width="1" height="3.0" fill="#f79c9e"/>
<rect x="66" y="412.8" width="1" height="2.7" fill="#f79c9e"/>
<rect x="67" y="395.0" width="1" height="20.5" fill="#f79c9e"/>
<rect x="68" y="410.4" width="1" height="5.1" fill="#6cbdb3"/>
<rect x="69" y="404.0" width="1" height="11.5" fill="#f79c9e"/>
<rect x="70" y="406.9" width="1" height="8.6" fill="#f79c9e"/>
<rect x="71" y="405.6" width="1" height="9.9" fill="#f79c9e"/>
<rect x="72" y="407.5" width="1" height="8.0" fill="#f79c9e"/>
<rect x="73" y="408.0" width="1" height="7.5" fill="#6cbdb3"/>
<rect x="74" y="408.6" width="1" height="6.9" fill="#6cbdb3"/>
<rect x="75" y="409.4" width="1" height="6.1" fill="#f79c9e"/>
<rect x="76" y="411.7" width="1" height="3.8" fill="#f79c9e"/>
<rect x="77" y="412.1" width="1" height="3.4" fill="#6cbdb3"/>
<rect x="78" y="409.9" width="1" height="5.6" fill="#f79c9e"/>
<rect x="79" y="412.4" width="1" height="3.1" fill="#6cbdb3"/>
<rect x="80" y="412.7" width="1" height="2.8" fill="#f79c9e"/>
<rect x="81" y="412.4" width="1" height="3.1" fill="#6cbdb3"/>
<rect x="82" y="412.0" width="1" height="3.5" fill="#f79c9e"/>
<rect x="83" y="412.0" width="1" height="3.5" fill="#6cbdb3"/>
<rect x="84" y="411.4" width="1" height="4.1" fill="#f79c9e"/>
<rect x="85" y="412.7" width="1" height="2.8" fill="#6cbdb3"/>
<rect x="86" y="413.1" width="1" height="2.4" fill="#6cbdb3"/>
<rect x="87" y="411.5" width="1" height="4.0" fill="#f79c9e"/>
<rect x="88" y="412.7" width="1" height="2.8" fill="#6cbdb3"/>
<rect x="89" y="413.0" width="1" height="2.5" fill="#6cbdb3"/>
<rect x="90" y="413.1" width="1" height="2.4" fill="#6cbdb3"/>
<rect x="91" y="389.0" width="1" height="26.5" fill="#6cbdb3"/>
<rect x="92" y="412.3" width="1" height="3.2" fill="#6cbdb3"/>
<rect x="93" y="411.0" width="1" height="4.5" fill="#6cbdb3"/>
<rect x="94" y="411.7" width="1" height="3.8" fill="#6cbdb3"/>
<rect x="95" y="404.0" width="1" height="11.5" fill="#6cbdb3"/>
<rect x="96" y="404.2" width="1" height="11.3" fill="#f79c9e"/>
<rect x="97" y="407.4" width="1" height="8.1" fill="#6cbdb3"/>
<rect x="98" y="411.6" width="1" height="3.9" fill="#6cbdb3"/>
<rect x="99" y="408.9" width="1" height="6.6" fill="#f79c9e"/>
<rect x="100" y="411.3" width="1" height="4.2" fill="#6cbdb3"/>
<rect x="101" y="407.9" width="1" height="7.6" fill="#6cbdb3"/>
<rect x="102" y="411.3" width="1" height="4.2" fill="#f79c9e"/>
<rect x="103" y="413.0" width="1" height="2.5" fill="#6cbdb3"/>
<rect x="104" y="411.7" width="1" height="3.8" fill="#6cbdb3"/>
<rect x="105" y="410.3" width="1" height="5.2" fill="#6cbdb3"/>
<rect x="106" y="412.1" width="1" height="3.4" fill="#f79c9e"/>
<rect x="107" y="412.7" width="1" height="2.8" fill="#6cbdb3"/>
<rect x="108" y="410.7" width="1" height="4.8" fill="#6cbdb3"/>
<rect x="109" y="411.2" width="1" height="4.3" fill="#6cbdb3"/>
<rect x="110" y="413.2" width="1" height="2.3" fill="#f79c9e"/>
<rect x="111" y="412.3" width="1" height="3.2" fill="#6cbdb3"/>
<rect x="112" y="413.0" width="1" height="2.5" fill="#f79c9e"/>
<rect x="113" y="412.0" width="1" height="3.5" fill="#6cbdb3"/>
<rect x="114" y="413.1" width="1" height="2.4" fill="#f79c9e"/>
<rect x="115" y="412.1" width="1" height="3.4" fill="#6cbdb3"/>
<rect x="116" y="412.9" width="1" height="2.6" fill="#f79c9e"/>
<rect x="117" y="412.2" width="1" height="3.3" fill="#f79c9e"/>
<rect x="118" y="412.3" width="1" height="3.2" fill="#6cbdb3"/>
<rect x="119" y="398.0" width="1" height="17.5" fill="#f79c9e"/>
<rect x="120" y="412.9" width="1" height="2.6" fill="#f79c9e"/>
<rect x="121" y="412.7" width="1" height="2.8" fill="#f79c9e"/>
<rect x="122" y="412.0" width="1" height="3.5" fill="#6cbdb3"/>
<rect x="123" y="411.8" width="1" height="3.7" fill="#6cbdb3"/>
<rect x="124" y="412.0" width="1" height="3.5" fill="#6cbdb3"/>
<rect x="125" y="406.0" width="1" height="9.5" fill="#6cbdb3"/>
<rect x="126" y="406.3" width="1" height="9.2" fill="#6cbdb3"/>
<rect x="127" y="406.1" width="1" height="9.4" fill="#6cbdb3"/>
<rect x="128" y="405.9" width="1" height="9.6" fill="#f79c9e"/>
<rect x="129" y="408.8" width="1" height="6.7" fill="#f79c9e"/>
<rect x="130" y="412.6" width="1" height="2.9" fill="#6cbdb3"/>
<rect x="131" y="411.0" width="1" height="4.5" fill="#6cbdb3"/>
<rect x="132" y="411.4" width="1" height="4.1" fill="#f79c9e"/>
<rect x="133" y="412.2" width="1" height="3.3" fill="#6cbdb3"/>
<rect x="134" y="410.9" width="1" height="4.6" fill="#f79c9e"/>
<rect x="135" y="410.6" width="1" height="4.9" fill="#6cbdb3"/>
<rect x="136" y="412.0" width="1" height="3.5" fill="#6cbdb3"/>
<rect x="137" y="411.7" width="1" height="3.8" fill="#f79c9e"/>
<rect x="138" y="410.0" width="1" height="5.5" fill="#6cbdb3"/>
<rect x="139" y="413.1" width="1" height="2.4" fill="#f79c9e"/>
<rect x="140" y="411.8" width="1" height="3.7" fill="#6cbdb3"/>
<rect x="141" y="413.1" width="1" height="2.4" fill="#6cbdb3"/>
<rect x="142" y="411.6" width="1" height="3.9" fill="#f79c9e"/>
<rect x="143" y="413.2" width="1" height="2.3" fill="#f79c9e"/>
<rect x="144" y="413.0" width="1" height="2.5" fill="#f79c9e"/>
<rect x="145" y="411.4" width="1" height="4.1" fill="#6cbdb3"/>
<rect x="146" y="412.1" width="1" height="3.4" fill="#f79c9e"/>
<rect x="147" y="398.0" width="1" height="17.5" fill="#f79c9e"/>
<rect x="148" y="411.8" width="1" height="3.7" fill="#6cbdb3"/>
<rect x="149" y="412.3" width="1" height="3.2" fill="#6cbdb3"/>
<rect x="150" y="411.2" width="1" height="4.3" fill="#f79c9e"/>
<rect x="151" y="400.0" width="1" height="15.5" fill="#f79c9e"/>
<rect x="152" y="405.4" width="1" height="10.1" fill="#6cbdb3"/>
<rect x="153" y="406.7" width="1" height="8.8" fill="#f79c9e"/>
<rect x="154" y="409.2" width="1" height="6.3" fill="#6cbdb3"/>
<rect x="155" y="411.4" width="1" height="4.1" fill="#6cbdb3"/>
<rect x="156" y="407.3" width="1" height="8.2" fill="#6cbdb3"/>
<rect x="157" y="410.8" width="1" height="4.7" fill="#f79c9e"/>
<rect x="158" y="410.0" width="1" height="5.5" fill="#f79c9e"/>
<rect x="159" y="411.6" width="1" height="3.9" fill="#6cbdb3"/>
<rect x="160" y="409.5" width="1" height="6.0" fill="#f79c9e"/>
<rect x="161" y="411.9" width="1" height="3.6" fill="#6cbdb3"/>
<rect x="162" y="411.5" width="1" height="4.0" fill="#f79c9e"/>
<rect x="163" y="411.9" width="1" height="3.6" fill="#f79c9e"/>
<rect x="164" y="411.0" width="1" height="4.5" fill="#6cbdb3"/>
<rect x="165" y="410.1" width="1" height="5.4" fill="#6cbdb3"/>
<rect x="166" y="412.8" width="1" height="2.7" fill="#f79c9e"/>
<rect x="167" y="412.2" width="1" height="3.3" fill="#f79c9e"/>
<rect x="168" y="410.9" width="1" height="4.6" fill="#6cbdb3"/>
<rect x="169" y="412.6" width="1" height="2.9" fill="#f79c9e"/>
<rect x="170" y="410.7" width="1" height="4.8" fill="#f79c9e"/>
<rect x="171" y="412.9" width="1" height="2.6" fill="#6cbdb3"/>
<rect x="172" y="412.4" width="1" height="3.1" fill="#6cbdb3"/>
<rect x="173" y="412.7" width="1" height="2.8" fill="#f79c9e"/>
<rect x="174" y="405.0" width="1" height="10.5" fill="#f79c9e"/>
<rect x="175" y="413.1" width="1" height="2.4" fill="#f79c9e"/>
<rect x="176" y="410.1" width="1" height="5.4" fill="#6cbdb3"/>
<rect x="177" y="411.5" width="1" height="4.0" fill="#f79c9e"/>
<rect x="178" y="403.0" width="1" height="12.5" fill="#f79c9e"/>
<rect x="179" y="411.8" width="1" height="3.7" fill="#6cbdb3"/>
<rect x="180" y="401.0" width="1" height="14.5" fill="#6cbdb3"/>
<rect x="181" y="407.0" width="1" height="8.5" fill="#6cbdb3"/>
<rect x="182" y="407.7" width="1" height="7.8" fill="#f79c9e"/>
<rect x="183" y="407.5" width="1" height="8.0" fill="#f79c9e"/>
<rect x="184" y="407.0" width="1" height="8.5" fill="#6cbdb3"/>
<rect x="185" y="410.9" width="1" height="4.6" fill="#6cbdb3"/>
<rect x="186" y="408.9" width="1" height="6.6" fill="#f79c9e"/>
<rect x="187" y="413.0" width="1" height="2.5" fill="#6cbdb3"/>
<rect x="188" y="412.1" width="1" height="3.4" fill="#f79c9e"/>
<rect x="189" y="412.4" width="1" height="3.1" fill="#f79c9e"/>
<rect x="190" y="411.6" width="1" height="3.9" fill="#6cbdb3"/>
<rect x="191" y="412.6" width="1" height="2.9" fill="#f79c9e"/>
<rect x="192" y="410.2" width="1" height="5.3" fill="#f79c9e"/>
<rect x="193" y="411.8" width="1" height="3.7" fill="#6cbdb3"/>
<rect x="194" y="412.2" width="1" height="3.3" fill="#f79c9e"/>
<rect x="195" y="412.0" width="1" height="3.5" fill="#f79c9e"/>
<rect x="196" y="412.2" width="1" height="3.3" fill="#6cbdb3"/>
<rect x="197" y="412.3" width="1" height="3.2" fill="#6cbdb3"/>
<rect x="198" y="412.4" width="1" height="3.1" fill="#6cbdb3"/>
<rect x="199" y="413.1" width="1" height="2.4" fill="#6cbdb3"/>
<rect x="200" y="412.9" width="1" height="2.6" fill="#6cbdb3"/>
<rect x="201" y="412.2" width="1" height="3.3" fill="#6cbdb3"/>
<rect x="202" y="411.8" width="1" height="3.7" fill="#f79c9e"/>
<rect x="203" y="384.0" width="1" height="31.5" fill="#6cbdb3"/>
<rect x="204" y="412.6" width="1" height="2.9" fill="#f79c9e"/>
<rect x="205" y="411.6" width="1" height="3.9" fill="#6cbdb3"/>
<rect x="206" y="412.7" width="1" height="2.8" fill="#f79c9e"/>
<rect x="207" y="405.0" width="1" height="10.5" fill="#6cbdb3"/>
<rect x="208" y="403.5" width="1" height="12.0" fill="#6cbdb3"/>
<rect x="209" y="409.8" width="1" height="5.7" fill="#f79c9e"/>
<rect x="210" y="405.7" width="1" height="9.8" fill="#6cbdb3"/>
<rect x="211" y="409.9" width="1" height="5.6" fill="#6cbdb3"/>
<rect x="212" y="410.7" width="1" height="4.8" fill="#f79c9e"/>
<rect x="213" y="410.9" width="1" height="4.6" fill="#f79c9e"/>
<rect x="214" y="410.4" width="1" height="5.1" fill="#6cbdb3"/>
<rect x="215" y="411.6" width="1" height="3.9" fill="#f79c9e"/>
<rect x="216" y="410.5" width="1" height="5.0" fill="#6cbdb3"/>
<rect x="217" y="411.7" width="1" height="3.8" fill="#f79c9e"/>
<rect x="218" y="413.2" width="1" height="2.3" fill="#f79c9e"/>
<rect x="219" y="412.6" width="1" height="2.9" fill="#6cbdb3"/>
<rect x="220" y="411.4" width="1" height="4.1" fill="#f79c9e"/>
<rect x="221" y="413.1" width="1" height="2.4" fill="#6cbdb3"/>
<rect x="222" y="412.0" width="1" height="3.5" fill="#f79c9e"/>
<rect x="223" y="412.8" width="1" height="2.7" fill="#f79c9e"/>
<rect x="224" y="413.0" width="1" height="2.5" fill="#f79c9e"/>
<rect x="225" y="412.1" width="1" height="3.4" fill="#6cbdb3"/>
<rect x="226" y="411.8" width="1" height="3.7" fill="#6cbdb3"/>
<rect x="227" y="411.3" width="1" height="4.2" fill="#f79c9e"/>
<rect x="228" y="412.6" width="1" height="2.9" fill="#6cbdb3"/>
<rect x="229" y="412.0" width="1" height="3.5" fill="#f79c9e"/>
<rect x="230" y="412.5" width="1" height="3.0" fill="#6cbdb3"/>
<rect x="231" y="391.0" width="1" height="24.5" fill="#6cbdb3"/>
<rect x="232" y="411.6" width="1" height="3.9" fill="#f79c9e"/>
<rect x="233" y="412.5" width="1" height="3.0" fill="#6cbdb3"/>
<rect x="234" y="413.0" width="1" height="2.5" fill="#6cbdb3"/>
<rect x="235" y="405.0" width="1" height="10.5" fill="#f79c9e"/>
<rect x="236" y="405.1" width="1" height="10.4" fill="#f79c9e"/>
<rect x="237" y="408.9" width="1" height="6.6" fill="#f79c9e"/>
<rect x="238" y="407.5" width="1" height="8.0" fill="#6cbdb3"/>
<rect x="239" y="412.6" width="1" height="2.9" fill="#6cbdb3"/>
<rect x="240" y="411.0" width="1" height="4.5" fill="#6cbdb3"/>
<rect x="241" y="410.7" width="1" height="4.8" fill="#f79c9e"/>
<rect x="242" y="410.3" width="1" height="5.2" fill="#f79c9e"/>
<rect x="243" y="411.8" width="1" height="3.7" fill="#6cbdb3"/>
<rect x="244" y="411.0" width="1" height="4.5" fill="#f79c9e"/>
<rect x="245" y="412.0" width="1" height="3.5" fill="#6cbdb3"/>
<rect x="246" y="411.2" width="1" height="4.3" fill="#f79c9e"/>
<rect x="247" y="411.7" width="1" height="3.8" fill="#f79c9e"/>
<rect x="248" y="412.6" width="1" height="2.9" fill="#6cbdb3"/>
<rect x="249" y="412.9" width="1" height="2.6" fill="#6cbdb3"/>
<rect x="250" y="409.8" width="1" height="5.7" fill="#f79c9e"/>
<rect x="251" y="412.7" width="1" height="2.8" fill="#6cbdb3"/>
<rect x="252" y="412.8" width="1" height="2.7" fill="#6cbdb3"/>
<rect x="253" y="412.9" width="1" height="2.6" fill="#f79c9e"/>
<rect x="254" y="412.2" width="1" height="3.3" fill="#6cbdb3"/>
<rect x="255" y="412.7" width="1" height="2.8" fill="#f79c9e"/>
<rect x="256" y="412.7" width="1" height="2.8" fill="#f79c9e"/>
<rect x="257" y="411.8" width="1" height="3.7" fill="#6cbdb3"/>
<rect x="258" y="412.2" width="1" height="3.3" fill="#6cbdb3"/>
<rect x="259" y="390.0" width="1" height="25.5" fill="#6cbdb3"/>
<rect x="260" y="411.1" width="1" height="4.4" fill="#f79c9e"/>
<rect x="261" y="412.2" width="1" height="3.3" fill="#f79c9e"/>
<rect x="262" y="369.0" width="1" height="46.5" fill="#f79c9e"/>
<rect x="263" y="412.0" width="1" height="3.5" fill="#6cbdb3"/>
<rect x="264" y="406.8" width="1" height="8.7" fill="#f79c9e"/>
<rect x="265" y="406.3" width="1" height="9.2" fill="#6cbdb3"/>
<rect x="266" y="408.0" width="1" height="7.5" fill="#6cbdb3"/>
<rect x="267" y="409.3" width="1" height="6.2" fill="#f79c9e"/>
<rect x="268" y="406.0" width="1" height="9.5" fill="#6cbdb3"/>
<rect x="269" y="410.6" width="1" height="4.9" fill="#f79c9e"/>
<rect x="270" y="410.6" width="1" height="4.9" fill="#6cbdb3"/>
<rect x="271" y="411.3" width="1" height="4.2" fill="#6cbdb3"/>
<rect x="272" y="408.5" width="1" height="7.0" fill="#6cbdb3"/>
<rect x="273" y="411.4" width="1" height="4.1" fill="#6cbdb3"/>
<rect x="274" y="405.0" width="1" height="10.5" fill="#6cbdb3"/>
<rect x="275" y="411.8" width="1" height="3.7" fill="#6cbdb3"/>
<rect x="276" y="413.1" width="1" height="2.4" fill="#6cbdb3"/>
<rect x="277" y="410.8" width="1" height="4.7" fill="#f79c9e"/>
<rect x="278" y="411.5" width="1" height="4.0" fill="#6cbdb3"/>
<rect x="279" y="413.1" width="1" height="2.4" fill="#f79c9e"/>
<rect x="280" y="410.7" width="1" height="4.8" fill="#6cbdb3"/>
<rect x="281" y="412.8" width="1" height="2.7" fill="#6cbdb3"/>
<rect x="282" y="411.7" width="1" height="3.8" fill="#f79c9e"/>
<rect x="283" y="412.2" width="1" height="3.3" fill="#6cbdb3"/>
<rect x="284" y="412.1" width="1" height="3.4" fill="#6cbdb3"/>
<rect x="285" y="412.0" width="1" height="3.5" fill="#f79c9e"/>
<rect x="286" y="412.8" width="1" height="2.7" fill="#f79c9e"/>
<rect x="287" y="391.0" width="1" height="24.5" fill="#6cbdb3"/>
<rect x="288" y="252.3" width="1" height="163.2" fill="#f79c9e"/>
<rect x="289" y="412.4" width="1" height="3.1" fill="#6cbdb3"/>
<rect x="290" y="410.9" width="1" height="4.6" fill="#f79c9e"/>
<rect x="291" y="385.0" width="1" height="30.5" fill="#6cbdb3"/>
<rect x="292" y="404.2" width="1" height="11.3" fill="#6cbdb3"/>
<rect x="293" y="408.9" width="1" height="6.6" fill="#f79c9e"/>
<rect x="294" y="406.0" width="1" height="9.5" fill="#6cbdb3"/>
<rect x="295" y="410.9" width="1" height="4.6" fill="#f79c9e"/>
<rect x="296" y="410.2" width="1" height="5.3" fill="#6cbdb3"/>
<rect x="297" y="411.3" width="1" height="4.2" fill="#6cbdb3"/>
<rect x="298" y="401.0" width="1" height="14.5" fill="#6cbdb3"/>
<rect x="299" y="411.5" width="1" height="4.0" fill="#6cbdb3"/>
<rect x="300" y="411.6" width="1" height="3.9" fill="#6cbdb3"/>
<rect x="301" y="410.8" width="1" height="4.7" fill="#f79c9e"/>
<rect x="302" y="412.2" width="1" height="3.3" fill="#6cbdb3"/>
<rect x="303" y="411.3" width="1" height="4.2" fill="#f79c9e"/>
<rect x="304" y="411.8" width="1" height="3.7" fill="#6cbdb3"/>
<rect x="305" y="413.0" width="1" height="2.5" fill="#6cbdb3"/>
<rect x="306" y="413.1" width="1" height="2.4" fill="#6cbdb3"/>
<rect x="307" y="412.1" width="1" height="3.4" fill="#6cbdb3"/>
<rect x="308" y="412.5" width="1" height="3.0" fill="#6cbdb3"/>
<rect x="309" y="412.6" width="1" height="2.9" fill="#6cbdb3"/>
<rect x="310" y="409.6" width="1" height="5.9" fill="#f79c9e"/>
<rect x="311" y="410.5" width="1" height="5.0" fill="#6cbdb3"/>
<rect x="312" y="412.2" width="1" height="3.3" fill="#6cbdb3"/>
<rect x="313" y="410.3" width="1" height="5.2" fill="#f79c9e"/>
<rect x="314" y="411.5" width="1" height="4.0" fill="#6cbdb3"/>
<rect x="315" y="412.5" width="1" height="3.0" fill="#f79c9e"/>
<rect x="316" y="384.0" width="1" height="31.5" fill="#6cbdb3"/>
<rect x="317" y="410.8" width="1" height="4.7" fill="#f79c9e"/>
<rect x="318" y="411.7" width="1" height="3.8" fill="#6cbdb3"/>
<rect x="319" y="399.0" width="1" height="16.5" fill="#f79c9e"/>
<rect x="320" y="407.4" width="1" height="8.1" fill="#f79c9e"/>
<rect x="321" y="408.6" width="1" height="6.9" fill="#6cbdb3"/>
<rect x="322" y="406.2" width="1" height="9.3" fill="#f79c9e"/>
<rect x="323" y="409.9" width="1" height="5.6" fill="#6cbdb3"/>
<rect x="324" y="410.2" width="1" height="5.3" fill="#f79c9e"/>
<rect x="325" y="411.9" width="1" height="3.6" fill="#6cbdb3"/>
<rect x="326" y="412.7" width="1" height="2.8" fill="#f79c9e"/>
<rect x="327" y="410.0" width="1" height="5.5" fill="#6cbdb3"/>
<rect x="328" y="411.6" width="1" height="3.9" fill="#f79c9e"/>
<rect x="329" y="410.6" width="1" height="4.9" fill="#6cbdb3"/>
<rect x="330" y="411.6" width="1" height="3.9" fill="#f79c9e"/>
<rect x="331" y="412.6" width="1" height="2.9" fill="#f79c9e"/>
<rect x="332" y="410.7" width="1" height="4.8" fill="#6cbdb3"/>
<rect x="333" y="412.5" width="1" height="3.0" fill="#f79c9e"/>
<rect x="334" y="412.8" width="1" height="2.7" fill="#f79c9e"/>
<rect x="335" y="412.0" width="1" height="3.5" fill="#f79c9e"/>
<rect x="336" y="412.2" width="1" height="3.3" fill="#6cbdb3"/>
<rect x="337" y="409.0" width="1" height="6.5" fill="#f79c9e"/>
<rect x="338" y="412.4" width="1" height="3.1" fill="#6cbdb3"/>
<rect x="339" y="410.1" width="1" height="5.4" fill="#f79c9e"/>
<rect x="340" y="411.7" width="1" height="3.8" fill="#6cbdb3"/>
<rect x="341" y="411.8" width="1" height="3.7" fill="#f79c9e"/>
<rect x="342" y="411.3" width="1" height="4.2" fill="#f79c9e"/>
<rect x="343" y="412.1" width="1" height="3.4" fill="#6cbdb3"/>
<rect x="344" y="390.0" width="1" height="25.5" fill="#f79c9e"/>
<rect x="345" y="412.4" width="1" height="3.1" fill="#6cbdb3"/>
<rect x="346" y="411.2" width="1" height="4.3" fill="#f79c9e"/>
<rect x="347" y="412.6" width="1" height="2.9" fill="#6cbdb3"/>
<rect x="348" y="405.4" width="1" height="10.1" fill="#6cbdb3"/>
<rect x="349" y="407.2" width="1" height="8.3" fill="#f79c9e"/>
<rect x="350" y="409.6" width="1" height="5.9" fill="#6cbdb3"/>
<rect x="351" y="408.7" width="1" height="6.8" fill="#f79c9e"/>
<rect x="352" y="408.0" width="1" height="7.5" fill="#f79c9e"/>
<rect x="353" y="410.8" width="1" height="4.7" fill="#f79c9e"/>
<rect x="354" y="410.9" width="1" height="4.6" fill="#6cbdb3"/>
<rect x="355" y="411.1" width="1" height="4.4" fill="#6cbdb3"/>
<rect x="356" y="411.0" width="1" height="4.5" fill="#6cbdb3"/>
<rect x="357" y="411.6" width="1" height="3.9" fill="#f79c9e"/>
<rect x="358" y="411.3" width="1" height="4.2" fill="#6cbdb3"/>
<rect x="359" y="410.7" width="1" height="4.8" fill="#f79c9e"/>
<rect x="360" y="412.7" width="1" height="2.8" fill="#6cbdb3"/>
<rect x="361" y="411.1" width="1" height="4.4" fill="#f79c9e"/>
<rect x="362" y="412.8" width="1" height="2.7" fill="#6cbdb3"/>
<rect x="363" y="412.0" width="1" height="3.5" fill="#f79c9e"/>
<rect x="364" y="412.5" width="1" height="3.0" fill="#f79c9e"/>
<rect x="365" y="412.5" width="1" height="3.0" fill="#6cbdb3"/>
<rect x="366" y="412.0" width="1" height="3.5" fill="#6cbdb3"/>
<rect x="367" y="413.0" width="1" height="2.5" fill="#6cbdb3"/>
<rect x="368" y="410.8" width="1" height="4.7" fill="#6cbdb3"/>
<rect x="369" y="412.3" width="1" height="3.2" fill="#6cbdb3"/>
<rect x="370" y="411.5" width="1" height="4.0" fill="#f79c9e"/>
<rect x="371" y="412.4" width="1" height="3.1" fill="#6cbdb3"/>
<rect x="372" y="388.0" width="1" height="27.5" fill="#6cbdb3"/>
<rect x="373" y="413.1" width="1" height="2.4" fill="#f79c9e"/>
<rect x="374" y="412.9" width="1" height="2.6" fill="#f79c9e"/>
<rect x="375" y="411.3" width="1" height="4.2" fill="#6cbdb3"/>
<rect x="376" y="403.0" width="1" height="12.5" fill="#f79c9e"/>
<rect x="377" y="406.0" width="1" height="9.5" fill="#6cbdb3"/>
<rect x="378" y="409.1" width="1" height="6.4" fill="#f79c9e"/>
<rect x="379" y="406.6" width="1" height="8.9" fill="#6cbdb3"/>
<rect x="380" y="408.7" width="1" height="6.8" fill="#f79c9e"/>
<rect x="381" y="410.4" width="1" height="5.1" fill="#f79c9e"/>
<rect x="382" y="408.8" width="1" height="6.7" fill="#6cbdb3"/>
<rect x="383" y="411.1" width="1" height="4.4" fill="#f79c9e"/>
<rect x="384" y="411.4" width="1" height="4.1" fill="#f79c9e"/>
<rect x="385" y="410.0" width="1" height="5.5" fill="#f79c9e"/>
<rect x="386" y="409.9" width="1" height="5.6" fill="#f79c9e"/>
<rect x="387" y="412.2" width="1" height="3.3" fill="#6cbdb3"/>
<rect x="388" y="412.7" width="1" height="2.8" fill="#f79c9e"/>
<rect x="389" y="412.9" width="1" height="2.6" fill="#6cbdb3"/>
<rect x="390" y="413.0" width="1" height="2.5" fill="#f79c9e"/>
<rect x="391" y="410.8" width="1" height="4.7" fill="#6cbdb3"/>
<rect x="392" y="410.0" width="1" height="5.5" fill="#6cbdb3"/>
<rect x="393" y="410.9" width="1" height="4.6" fill="#6cbdb3"/>
<rect x="394" y="411.6" width="1" height="3.9" fill="#6cbdb3"/>
<rect x="395" y="412.6" width="1" height="2.9" fill="#6cbdb3"/>
<rect x="396" y="413.0" width="1" height="2.5" fill="#6cbdb3"/>
<rect x="397" y="411.1" width="1" height="4.4" fill="#6cbdb3"/>
<rect x="398" y="412.9" width="1" height="2.6" fill="#6cbdb3"/>
<rect x="399" y="412.7" width="1" height="2.8" fill="#6cbdb3"/>
<rect x="400" y="394.0" width="1" height="21.5" fill="#f79c9e"/>
<rect x="401" y="412.1" width="1" height="3.4" fill="#f79c9e"/>
<rect x="402" y="411.3" width="1" height="4.2" fill="#6cbdb3"/>
<rect x="403" y="412.5" width="1" height="3.0" fill="#f79c9e"/>
<rect x="404" y="404.0" width="1" height="11.5" fill="#6cbdb3"/>
<rect x="405" y="403.6" width="1" height="11.9" fill="#f79c9e"/>
<rect x="406" y="406.0" width="1" height="9.5" fill="#f79c9e"/>
<rect x="407" y="407.2" width="1" height="8.3" fill="#f79c9e"/>
<rect x="408" y="409.1" width="1" height="6.4" fill="#6cbdb3"/>
<rect x="409" y="408.5" width="1" height="7.0" fill="#6cbdb3"/>
<rect x="410" y="410.1" width="1" height="5.4" fill="#f79c9e"/>
<rect x="411" y="412.3" width="1" height="3.2" fill="#6cbdb3"/>
<rect x="412" y="411.7" width="1" height="3.8" fill="#6cbdb3"/>
<rect x="413" y="411.4" width="1" height="4.1" fill="#6cbdb3"/>
<rect x="414" y="411.7" width="1" height="3.8" fill="#f79c9e"/>
<rect x="415" y="412.6" width="1" height="2.9" fill="#6cbdb3"/>
<rect x="416" y="412.0" width="1" height="3.5" fill="#6cbdb3"/>
<rect x="417" y="412.5" width="1" height="3.0" fill="#6cbdb3"/>
<rect x="418" y="411.6" width="1" height="3.9" fill="#6cbdb3"/>
<rect x="419" y="413.2" width="1" height="2.3" fill="#f79c9e"/>
<rect x="420" y="411.5" width="1" height="4.0" fill="#f79c9e"/>
<rect x="421" y="412.9" width="1" height="2.6" fill="#6cbdb3"/>
<rect x="422" y="412.5" width="1" height="3.0" fill="#f79c9e"/>
<rect x="423" y="410.3" width="1" height="5.2" fill="#f79c9e"/>
<rect x="424" y="413.2" width="1" height="2.3" fill="#6cbdb3"/>
<rect x="425" y="412.9" width="1" height="2.6" fill="#f79c9e"/>
<rect x="426" y="413.1" width="1" height="2.4" fill="#f79c9e"/>
<rect x="427" y="412.9" width="1" height="2.6" fill="#f79c9e"/>
<rect x="428" y="396.8" width="1" height="18.7" fill="#6cbdb3"/>
<rect x="429" y="411.3" width="1" height="4.2" fill="#f79c9e"/>
<rect x="430" y="413.0" width="1" height="2.5" fill="#f79c9e"/>
<rect x="431" y="412.3" width="1" height="3.2" fill="#f79c9e"/>
<rect x="432" y="405.0" width="1" height="10.5" fill="#f79c9e"/>
<rect x="433" y="406.0" width="1" height="9.5" fill="#f79c9e"/>
<rect x="434" y="407.0" width="1" height="8.5" fill="#6cbdb3"/>
<rect x="435" y="409.6" width="1" height="5.9" fill="#6cbdb3"/>
<rect x="436" y="406.4" width="1" height="9.1" fill="#f79c9e"/>
<rect x="437" y="408.0" width="1" height="7.5" fill="#f79c9e"/>
<rect x="438" y="409.9" width="1" height="5.6" fill="#f79c9e"/>
<rect x="439" y="409.7" width="1" height="5.8" fill="#6cbdb3"/>
<rect x="440" y="412.8" width="1" height="2.7" fill="#6cbdb3"/>
<rect x="441" y="410.9" width="1" height="4.6" fill="#6cbdb3"/>
<rect x="442" y="411.7" width="1" height="3.8" fill="#f79c9e"/>
<rect x="443" y="412.1" width="1" height="3.4" fill="#6cbdb3"/>
<rect x="444" y="413.2" width="1" height="2.3" fill="#f79c9e"/>
<rect x="445" y="412.4" width="1" height="3.1" fill="#6cbdb3"/>
<rect x="446" y="412.1" width="1" height="3.4" fill="#6cbdb3"/>
<rect x="447" y="412.8" width="1" height="2.7" fill="#f79c9e"/>
<rect x="448" y="412.7" width="1" height="2.8" fill="#f79c9e"/>
<rect x="449" y="410.1" width="1" height="5.4" fill="#f79c9e"/>
<rect x="450" y="411.9" width="1" height="3.6" fill="#f79c9e"/>
<rect x="451" y="411.0" width="1" height="4.5" fill="#6cbdb3"/>
<rect x="452" y="412.3" width="1" height="3.2" fill="#f79c9e"/>
<rect x="453" y="411.6" width="1" height="3.9" fill="#6cbdb3"/>
<rect x="454" y="412.2" width="1" height="3.3" fill="#f79c9e"/>
<rect x="455" y="412.5" width="1" height="3.0" fill="#f79c9e"/>
<rect x="456" y="411.8" width="1" height="3.7" fill="#6cbdb3"/>
<rect x="457" y="406.0" width="1" height="9.5" fill="#f79c9e"/>
<rect x="458" y="412.0" width="1" height="3.5" fill="#f79c9e"/>
<rect x="459" y="412.9" width="1" height="2.6" fill="#6cbdb3"/>
<rect x="460" y="411.7" width="1" height="3.8" fill="#6cbdb3"/>
<rect x="461" y="405.5" width="1" height="10.0" fill="#f79c9e"/>
<rect x="462" y="407.8" width="1" height="7.7" fill="#f79c9e"/>
<rect x="463" y="408.2" width="1" height="7.3" fill="#6cbdb3"/>
<rect x="464" y="410.1" width="1" height="5.4" fill="#f79c9e"/>
<rect x="465" y="409.2" width="1" height="6.3" fill="#6cbdb3"/>
<rect x="466" y="407.9" width="1" height="7.6" fill="#6cbdb3"/>
<rect x="467" y="411.5" width="1" height="4.0" fill="#f79c9e"/>
<rect x="468" y="412.4" width="1" height="3.1" fill="#6cbdb3"/>
<rect x="469" y="412.3" width="1" height="3.2" fill="#f79c9e"/>
<rect x="470" y="412.6" width="1" height="2.9" fill="#6cbdb3"/>
<rect x="471" y="410.8" width="1" height="4.7" fill="#f79c9e"/>
<rect x="472" y="412.6" width="1" height="2.9" fill="#f79c9e"/>
<rect x="473" y="412.5" width="1" height="3.0" fill="#f79c9e"/>
<rect x="474" y="412.4" width="1" height="3.1" fill="#6cbdb3"/>
<rect x="475" y="413.0" width="1" height="2.5" fill="#f79c9e"/>
<rect x="476" y="409.7" width="1" height="5.8" fill="#6cbdb3"/>
<rect x="477" y="395.0" width="1" height="20.5" fill="#6cbdb3"/>
<rect x="478" y="412.7" width="1" height="2.8" fill="#6cbdb3"/>
<rect x="479" y="412.2" width="1" height="3.3" fill="#6cbdb3"/>
<rect x="480" y="408.0" width="1" height="7.5" fill="#6cbdb3"/>
<rect x="481" y="412.4" width="1" height="3.1" fill="#f79c9e"/>
<rect x="482" y="399.0" width="1" height="16.5" fill="#6cbdb3"/>
<rect x="483" y="404.9" width="1" height="10.6" fill="#6cbdb3"/>
<rect x="484" y="408.1" width="1" height="7.4" fill="#f79c9e"/>
<rect x="485" y="407.8" width="1" height="7.7" fill="#6cbdb3"/>
<rect x="486" y="409.5" width="1" height="6.0" fill="#f79c9e"/>
<rect x="487" y="412.3" width="1" height="3.2" fill="#f79c9e"/>
<rect x="488" y="410.7" width="1" height="4.8" fill="#f79c9e"/>
<rect x="489" y="409.6" width="1" height="5.9" fill="#6cbdb3"/>
<rect x="490" y="410.9" width="1" height="4.6" fill="#6cbdb3"/>
<rect x="491" y="411.9" width="1" height="3.6" fill="#f79c9e"/>
<rect x="492" y="411.0" width="1" height="4.5" fill="#6cbdb3"/>
<rect x="493" y="410.4" width="1" height="5.1" fill="#f79c9e"/>
<rect x="494" y="412.9" width="1" height="2.6" fill="#6cbdb3"/>
<rect x="495" y="412.2" width="1" height="3.3" fill="#6cbdb3"/>
<rect x="496" y="412.2" width="1" height="3.3" fill="#6cbdb3"/>
<rect x="497" y="412.9" width="1" height="2.6" fill="#f79c9e"/>
<rect x="498" y="411.6" width="1" height="3.9" fill="#6cbdb3"/>
<rect x="499" y="411.7" width="1" height="3.8" fill="#f79c9e"/>
<rect x="500" y="412.6" width="1" height="2.9" fill="#6cbdb3"/>
<rect x="501" y="411.9" width="1" height="3.6" fill="#6cbdb3"/>
<rect x="502" y="412.1" width="1" height="3.4" fill="#f79c9e"/>
<rect x="503" y="412.9" width="1" height="2.6" fill="#f79c9e"/>
<rect x="504" y="413.1" width="1" height="2.4" fill="#6cbdb3"/>
<rect x="505" y="411.9" width="1" height="3.6" fill="#f79c9e"/>
<rect x="506" y="413.1" width="1" height="2.4" fill="#f79c9e"/>
<rect x="507" y="381.0" width="1" height="34.5" fill="#f79c9e"/>
<rect x="508" y="412.5" width="1" height="3.0" fill="#6cbdb3"/>
<rect x="509" y="410.6" width="1" height="4.9" fill="#f79c9e"/>
<rect x="510" y="405.0" width="1" height="10.5" fill="#f79c9e"/>
<rect x="511" y="403.8" width="1" height="11.7" fill="#6cbdb3"/>
<rect x="512" y="406.9" width="1" height="8.6" fill="#f79c9e"/>
<rect x="513" y="408.7" width="1" height="6.8" fill="#6cbdb3"/>
<rect x="514" y="407.4" width="1" height="8.1" fill="#f79c9e"/>
<rect x="515" y="408.9" width="1" height="6.6" fill="#6cbdb3"/>
<rect x="516" y="410.6" width="1" height="4.9" fill="#f79c9e"/>
<rect x="517" y="410.6" width="1" height="4.9" fill="#6cbdb3"/>
<rect x="518" y="411.5" width="1" height="4.0" fill="#6cbdb3"/>
<rect x="519" y="413.0" width="1" height="2.5" fill="#6cbdb3"/>
<rect x="520" y="410.7" width="1" height="4.8" fill="#6cbdb3"/>
<rect x="521" y="411.7" width="1" height="3.8" fill="#6cbdb3"/>
<rect x="522" y="412.9" width="1" height="2.6" fill="#6cbdb3"/>
<rect x="523" y="413.1" width="1" height="2.4" fill="#f79c9e"/>
<rect x="524" y="412.2" width="1" height="3.3" fill="#6cbdb3"/>
<rect x="525" y="412.2" width="1" height="3.3" fill="#6cbdb3"/>
<rect x="526" y="412.8" width="1" height="2.7" fill="#f79c9e"/>
<rect x="527" y="413.0" width="1" height="2.5" fill="#6cbdb3"/>
<rect x="528" y="412.1" width="1" height="3.4" fill="#f79c9e"/>
<rect x="529" y="411.6" width="1" height="3.9" fill="#f79c9e"/>
<rect x="530" y="412.9" width="1" height="2.6" fill="#6cbdb3"/>
<rect x="531" y="413.0" width="1" height="2.5" fill="#f79c9e"/>
<rect x="532" y="412.3" width="1" height="3.2" fill="#6cbdb3"/>
<rect x="533" y="412.5" width="1" height="3.0" fill="#6cbdb3"/>
<rect x="534" y="413.0" width="1" height="2.5" fill="#f79c9e"/>
<rect x="535" y="396.0" width="1" height="19.5" fill="#6cbdb3"/>
<rect x="536" y="412.6" width="1" height="2.9" fill="#f79c9e"/>
<rect x="537" y="411.3" width="1" height="4.2" fill="#f79c9e"/>
<rect x="538" y="399.0" width="1" height="16.5" fill="#6cbdb3"/>
<rect x="539" y="406.4" width="1" height="9.1" fill="#6cbdb3"/>
<rect x="540" y="405.0" width="1" height="10.5" fill="#6cbdb3"/>
<rect x="541" y="409.6" width="1" height="5.9" fill="#f79c9e"/>
<rect x="542" y="409.7" width="1" height="5.8" fill="#6cbdb3"/>
<rect x="543" y="410.8" width="1" height="4.7" fill="#f79c9e"/>
<rect x="544" y="410.9" width="1" height="4.6" fill="#6cbdb3"/>
</g>
<line x1="545.5" y1="5" x2="545.5" y2="415.5" stroke="#dcdde1"/>
<line x1="545.5" y1="14.5" x2="550" y2="14.5" stroke="#dcdde1"/>
<text x="553.8" y="17.6" font-size="10.5" fill="#232b3c" text-anchor="start" font-weight="normal" textLength="32.6" lengthAdjust="spacingAndGlyphs" stroke="#232b3c" stroke-width="0.15">270.00</text>
<line x1="545.5" y1="45.5" x2="550" y2="45.5" stroke="#dcdde1"/>
<text x="553.8" y="48.6" font-size="10.5" fill="#232b3c" text-anchor="start" font-weight="normal" textLength="32.6" lengthAdjust="spacingAndGlyphs" stroke="#232b3c" stroke-width="0.15">265.00</text>
<line x1="545.5" y1="77.5" x2="550" y2="77.5" stroke="#dcdde1"/>
<text x="553.8" y="80.6" font-size="10.5" fill="#232b3c" text-anchor="start" font-weight="normal" textLength="32.6" lengthAdjust="spacingAndGlyphs" stroke="#232b3c" stroke-width="0.15">260.00</text>
<line x1="545.5" y1="108.5" x2="550" y2="108.5" stroke="#dcdde1"/>
<text x="553.8" y="111.6" font-size="10.5" fill="#232b3c" text-anchor="start" font-weight="normal" textLength="32.6" lengthAdjust="spacingAndGlyphs" stroke="#232b3c" stroke-width="0.15">255.00</text>
<line x1="545.5" y1="140.5" x2="550" y2="140.5" stroke="#dcdde1"/>
<text x="553.8" y="143.6" font-size="10.5" fill="#232b3c" text-anchor="start" font-weight="normal" textLength="32.6" lengthAdjust="spacingAndGlyphs" stroke="#232b3c" stroke-width="0.15">250.00</text>
<line x1="545.5" y1="171.5" x2="550" y2="171.5" stroke="#dcdde1"/>
<text x="553.8" y="174.6" font-size="10.5" fill="#232b3c" text-anchor="start" font-weight="normal" textLength="32.6" lengthAdjust="spacingAndGlyphs" stroke="#232b3c" stroke-width="0.15">245.00</text>
<line x1="545.5" y1="202.5" x2="550" y2="202.5" stroke="#dcdde1"/>
<text x="553.8" y="205.6" font-size="10.5" fill="#232b3c" text-anchor="start" font-weight="normal" textLength="32.6" lengthAdjust="spacingAndGlyphs" stroke="#232b3c" stroke-width="0.15">240.00</text>
<line x1="545.5" y1="234.5" x2="550" y2="234.5" stroke="#dcdde1"/>
<text x="553.8" y="237.6" font-size="10.5" fill="#232b3c" text-anchor="start" font-weight="normal" textLength="32.6" lengthAdjust="spacingAndGlyphs" stroke="#232b3c" stroke-width="0.15">235.00</text>
<line x1="545.5" y1="265.5" x2="550" y2="265.5" stroke="#dcdde1"/>
<text x="553.8" y="268.6" font-size="10.5" fill="#232b3c" text-anchor="start" font-weight="normal" textLength="32.6" lengthAdjust="spacingAndGlyphs" stroke="#232b3c" stroke-width="0.15">230.00</text>
<line x1="545.5" y1="297.5" x2="550" y2="297.5" stroke="#dcdde1"/>
<text x="553.8" y="300.6" font-size="10.5" fill="#232b3c" text-anchor="start" font-weight="normal" textLength="32.6" lengthAdjust="spacingAndGlyphs" stroke="#232b3c" stroke-width="0.15">225.00</text>
<line x1="545.5" y1="328.5" x2="550" y2="328.5" stroke="#dcdde1"/>
<text x="553.8" y="331.6" font-size="10.5" fill="#232b3c" text-anchor="start" font-weight="normal" textLength="32.6" lengthAdjust="spacingAndGlyphs" stroke="#232b3c" stroke-width="0.15">220.00</text>
<line x1="545.5" y1="360.5" x2="550" y2="360.5" stroke="#dcdde1"/>
<text x="553.8" y="363.6" font-size="10.5" fill="#232b3c" text-anchor="start" font-weight="normal" textLength="32.6" lengthAdjust="spacingAndGlyphs" stroke="#232b3c" stroke-width="0.15">215.00</text>
<line x1="545.5" y1="391.5" x2="550" y2="391.5" stroke="#dcdde1"/>
<text x="553.8" y="394.6" font-size="10.5" fill="#232b3c" text-anchor="start" font-weight="normal" textLength="32.6" lengthAdjust="spacingAndGlyphs" stroke="#232b3c" stroke-width="0.15">210.00</text>
<rect x="545" y="78" width="50" height="16.8" fill="#3b9f90"/>
<rect x="545" y="94.8" width="50" height="19" fill="#5f92f5"/>
<line x1="545" y1="87.5" x2="549.5" y2="87.5" stroke="#fff"/>
<line x1="545" y1="104.5" x2="549.5" y2="104.5" stroke="#fff"/>
<text x="553.6" y="91" font-size="10.5" fill="#fff" text-anchor="start" font-weight="bold" textLength="33.2" lengthAdjust="spacingAndGlyphs">258.39</text>
<text x="553.6" y="108" font-size="10.5" fill="#fff" text-anchor="start" font-weight="bold" textLength="33.2" lengthAdjust="spacingAndGlyphs">257.70</text>
<svg x="545" y="404" width="60" height="11.6" overflow="hidden">
<rect x="0" y="0" width="57" height="12" fill="#3b9f90"/>
<line x1="0" y1="9.5" x2="4.5" y2="9.5" stroke="#fff"/>
<text x="9" y="13.5" font-size="10.5" fill="#fff" text-anchor="start" font-weight="bold" textLength="38.4" lengthAdjust="spacingAndGlyphs">612.73K</text>
</svg>
<line x1="67.5" y1="415.5" x2="67.5" y2="419.5" stroke="#dcdde1"/>
<text x="66.7" y="434" font-size="10.5" fill="#232b3c" text-anchor="middle" font-weight="normal" textLength="62.4" lengthAdjust="spacingAndGlyphs">09:30 10 Sep</text>
<line x1="151.5" y1="415.5" x2="151.5" y2="419.5" stroke="#dcdde1"/>
<text x="150.7" y="434" font-size="10.5" fill="#232b3c" text-anchor="middle" font-weight="normal" textLength="62.4" lengthAdjust="spacingAndGlyphs">09:30 15 Sep</text>
<line x1="235.5" y1="415.5" x2="235.5" y2="419.5" stroke="#dcdde1"/>
<text x="234.7" y="434" font-size="10.5" fill="#232b3c" text-anchor="middle" font-weight="normal" textLength="62.4" lengthAdjust="spacingAndGlyphs">09:30 18 Sep</text>
<line x1="319.5" y1="415.5" x2="319.5" y2="419.5" stroke="#dcdde1"/>
<text x="318.7" y="434" font-size="10.5" fill="#232b3c" text-anchor="middle" font-weight="normal" textLength="62.4" lengthAdjust="spacingAndGlyphs">09:30 23 Sep</text>
<line x1="404.5" y1="415.5" x2="404.5" y2="419.5" stroke="#dcdde1"/>
<text x="403.7" y="434" font-size="10.5" fill="#232b3c" text-anchor="middle" font-weight="normal" textLength="62.4" lengthAdjust="spacingAndGlyphs">09:30 26 Sep</text>
<line x1="482.5" y1="415.5" x2="482.5" y2="419.5" stroke="#dcdde1"/>
<text x="482.1" y="434" font-size="10.5" fill="#232b3c" text-anchor="middle" font-weight="normal" textLength="66.6" lengthAdjust="spacingAndGlyphs" stroke="#232b3c" stroke-width="0.25">09:30 01 Oct</text>
<g shape-rendering="crispEdges">
<line x1="5" y1="472.5" x2="563.5" y2="472.5" stroke="#f3f3f5"/>
<line x1="88.5" y1="442" x2="88.5" y2="516.5" stroke="#f3f3f5"/>
<line x1="166.5" y1="442" x2="166.5" y2="516.5" stroke="#f3f3f5"/>
<line x1="250.5" y1="442" x2="250.5" y2="516.5" stroke="#f3f3f5"/>
<line x1="346.5" y1="442" x2="346.5" y2="516.5" stroke="#f3f3f5"/>
<line x1="430.5" y1="442" x2="430.5" y2="516.5" stroke="#f3f3f5"/>
<line x1="526.5" y1="442" x2="526.5" y2="516.5" stroke="#f3f3f5"/>
<line x1="5" y1="516.5" x2="563.5" y2="516.5" stroke="#dcdde1"/>
<line x1="563.5" y1="442" x2="563.5" y2="516.5" stroke="#dcdde1"/>
</g>
<line x1="5" y1="502.5" x2="563.5" y2="502.5" stroke="#e5534b" stroke-dasharray="2,2"/>
<path d="M5.00,496.40 C5.83,495.67 8.33,493.23 10.00,492.00 C11.67,490.77 13.33,489.67 15.00,489.00 C16.67,488.33 18.33,488.25 20.00,488.00 C21.67,487.75 23.33,487.67 25.00,487.50 C26.67,487.33 28.33,486.97 30.00,487.00 C31.67,487.03 33.33,487.90 35.00,487.70 C36.67,487.50 38.33,486.25 40.00,485.80 C41.67,485.35 43.33,485.30 45.00,485.00 C46.67,484.70 48.33,484.37 50.00,484.00 C51.67,483.63 53.33,483.03 55.00,482.80 C56.67,482.57 58.33,482.60 60.00,482.60 C61.67,482.60 63.33,482.73 65.00,482.80 C66.67,482.87 68.33,482.72 70.00,483.00 C71.67,483.28 73.67,484.37 75.00,484.50 C76.33,484.63 77.00,484.08 78.00,483.80 C79.00,483.52 79.83,482.68 81.00,482.80 C82.17,482.92 83.50,483.80 85.00,484.50 C86.50,485.20 88.33,486.08 90.00,487.00 C91.67,487.92 93.33,488.97 95.00,490.00 C96.67,491.03 98.33,492.47 100.00,493.20 C101.67,493.93 103.33,494.12 105.00,494.40 C106.67,494.68 108.33,494.77 110.00,494.90 C111.67,495.03 113.67,495.28 115.00,495.20 C116.33,495.12 116.83,494.40 118.00,494.40 C119.17,494.40 120.50,494.87 122.00,495.20 C123.50,495.53 125.33,496.08 127.00,496.40 C128.67,496.72 130.33,496.93 132.00,497.10 C133.67,497.27 135.33,497.35 137.00,497.40 C138.67,497.45 140.17,497.48 142.00,497.40 C143.83,497.32 146.00,497.27 148.00,496.90 C150.00,496.53 152.50,495.42 154.00,495.20 C155.50,494.98 156.08,495.42 157.00,495.60 C157.92,495.78 158.50,497.57 159.50,496.30 C160.50,495.03 161.92,490.38 163.00,488.00 C164.08,485.62 164.83,483.78 166.00,482.00 C167.17,480.22 168.50,478.52 170.00,477.30 C171.50,476.08 173.33,475.47 175.00,474.70 C176.67,473.93 178.33,473.53 180.00,472.70 C181.67,471.87 183.33,470.48 185.00,469.70 C186.67,468.92 188.33,468.32 190.00,468.00 C191.67,467.68 193.33,467.67 195.00,467.80 C196.67,467.93 198.33,468.57 200.00,468.80 C201.67,469.03 203.33,469.05 205.00,469.20 C206.67,469.35 208.33,469.53 210.00,469.70 C211.67,469.87 213.33,470.20 215.00,470.20 C216.67,470.20 218.33,469.93 220.00,469.70 C221.67,469.47 223.17,469.12 225.00,468.80 C226.83,468.48 229.33,467.73 231.00,467.80 C232.67,467.87 233.50,469.00 235.00,469.20 C236.50,469.40 238.50,469.20 240.00,469.00 C241.50,468.80 242.67,466.85 244.00,468.00 C245.33,469.15 246.67,473.57 248.00,475.90 C249.33,478.23 250.67,480.03 252.00,482.00 C253.33,483.97 254.33,486.25 256.00,487.70 C257.67,489.15 260.33,489.58 262.00,490.70 C263.67,491.82 264.33,493.50 266.00,494.40 C267.67,495.30 270.00,495.60 272.00,496.10 C274.00,496.60 275.83,497.07 278.00,497.40 C280.17,497.73 281.83,497.98 285.00,498.10 C288.17,498.22 294.00,498.30 297.00,498.10 C300.00,497.90 300.83,497.10 303.00,496.90 C305.17,496.70 307.83,496.82 310.00,496.90 C312.17,496.98 314.17,497.53 316.00,497.40 C317.83,497.27 319.33,496.23 321.00,496.10 C322.67,495.97 324.17,496.18 326.00,496.60 C327.83,497.02 329.67,498.07 332.00,498.60 C334.33,499.13 337.83,501.12 340.00,499.80 C342.17,498.48 343.33,492.83 345.00,490.70 C346.67,488.57 348.33,487.90 350.00,487.00 C351.67,486.10 353.00,485.80 355.00,485.30 C357.00,484.80 359.50,484.53 362.00,484.00 C364.50,483.47 367.33,482.58 370.00,482.10 C372.67,481.62 375.67,481.43 378.00,481.10 C380.33,480.77 382.00,480.68 384.00,480.10 C386.00,479.52 387.83,478.18 390.00,477.60 C392.17,477.02 395.33,477.00 397.00,476.60 C398.67,476.20 398.50,475.20 400.00,475.20 C401.50,475.20 404.00,476.57 406.00,476.60 C408.00,476.63 409.67,475.80 412.00,475.40 C414.33,475.00 418.00,474.53 420.00,474.20 C422.00,473.87 422.33,472.08 424.00,473.40 C425.67,474.72 428.00,480.07 430.00,482.10 C432.00,484.13 433.50,484.72 436.00,485.60 C438.50,486.48 441.83,486.98 445.00,487.40 C448.17,487.82 452.17,487.85 455.00,488.10 C457.83,488.35 460.00,488.57 462.00,488.90 C464.00,489.23 465.33,489.28 467.00,490.10 C468.67,490.92 469.83,492.77 472.00,493.80 C474.17,494.83 478.00,495.48 480.00,496.30 C482.00,497.12 482.33,498.33 484.00,498.70 C485.67,499.07 488.00,498.62 490.00,498.50 C492.00,498.38 493.50,497.97 496.00,498.00 C498.50,498.03 501.83,498.50 505.00,498.70 C508.17,498.90 512.50,499.03 515.00,499.20 C517.50,499.37 518.33,501.75 520.00,499.70 C521.67,497.65 523.33,489.53 525.00,486.90 C526.67,484.27 527.83,485.13 530.00,483.90 C532.17,482.67 535.33,480.52 538.00,479.50 C540.67,478.48 543.50,478.42 546.00,477.80 C548.50,477.18 550.67,476.35 553.00,475.80 C555.33,475.25 558.17,474.75 560.00,474.50 C561.83,474.25 563.33,474.33 564.00,474.30" fill="none" stroke="#e0544a" stroke-width="2.4" stroke-linejoin="round"/>
<rect x="12" y="444" width="10" height="17.4" fill="#e0544a"/>
<text x="25.4" y="457.2" font-size="12" fill="#131722" text-anchor="start" font-weight="normal" textLength="100" lengthAdjust="spacingAndGlyphs">ATR(14) (0.41385)</text>
<rect x="563.5" y="449.3" width="38.2" height="35" fill="#e0544a"/>
<line x1="563.5" y1="458.5" x2="567.5" y2="458.5" stroke="#fff"/>
<line x1="563.5" y1="475.5" x2="567.5" y2="475.5" stroke="#fff"/>
<text x="571.8" y="461.8" font-size="10.5" fill="#fff" text-anchor="start" font-weight="bold" textLength="21.5" lengthAdjust="spacingAndGlyphs">0.96</text>
<text x="571.8" y="478.7" font-size="10.5" fill="#fff" text-anchor="start" font-weight="bold" textLength="21.5" lengthAdjust="spacingAndGlyphs">0.96</text>
<svg x="5" y="516" width="603" height="27" overflow="hidden"><g transform="translate(-5,-516)">
<text x="4.0000000000000036" y="534" font-size="10.5" fill="#232b3c" text-anchor="middle" font-weight="normal" textLength="62.4" lengthAdjust="spacingAndGlyphs">09:30 30 Sep</text>
<line x1="88.5" y1="516.5" x2="88.5" y2="520.5" stroke="#dcdde1"/>
<text x="87.8" y="534" font-size="10.5" fill="#232b3c" text-anchor="middle" font-weight="normal" textLength="62.4" lengthAdjust="spacingAndGlyphs">13:00 30 Sep</text>
<line x1="166.5" y1="516.5" x2="166.5" y2="520.5" stroke="#dcdde1"/>
<text x="165.8" y="534" font-size="10.5" fill="#232b3c" text-anchor="middle" font-weight="normal" textLength="66.4" lengthAdjust="spacingAndGlyphs" stroke="#232b3c" stroke-width="0.25">09:30 01 Oct</text>
<line x1="250.5" y1="516.5" x2="250.5" y2="520.5" stroke="#dcdde1"/>
<text x="249.5" y="534" font-size="10.5" fill="#232b3c" text-anchor="middle" font-weight="normal" textLength="63" lengthAdjust="spacingAndGlyphs">13:00 01 Oct</text>
<line x1="346.5" y1="516.5" x2="346.5" y2="520.5" stroke="#dcdde1"/>
<text x="345.8" y="534" font-size="10.5" fill="#232b3c" text-anchor="middle" font-weight="normal" textLength="62.5" lengthAdjust="spacingAndGlyphs">09:30 02 Oct</text>
<line x1="430.5" y1="516.5" x2="430.5" y2="520.5" stroke="#dcdde1"/>
<text x="430.5" y="534" font-size="10.5" fill="#232b3c" text-anchor="middle" font-weight="normal" textLength="61" lengthAdjust="spacingAndGlyphs">13:00 02 Oct</text>
<line x1="526.5" y1="516.5" x2="526.5" y2="520.5" stroke="#dcdde1"/>
<text x="526" y="534" font-size="10.5" fill="#232b3c" text-anchor="middle" font-weight="normal" textLength="62.5" lengthAdjust="spacingAndGlyphs">09:30 03 Oct</text>
</g></svg>
</svg></body></html>
